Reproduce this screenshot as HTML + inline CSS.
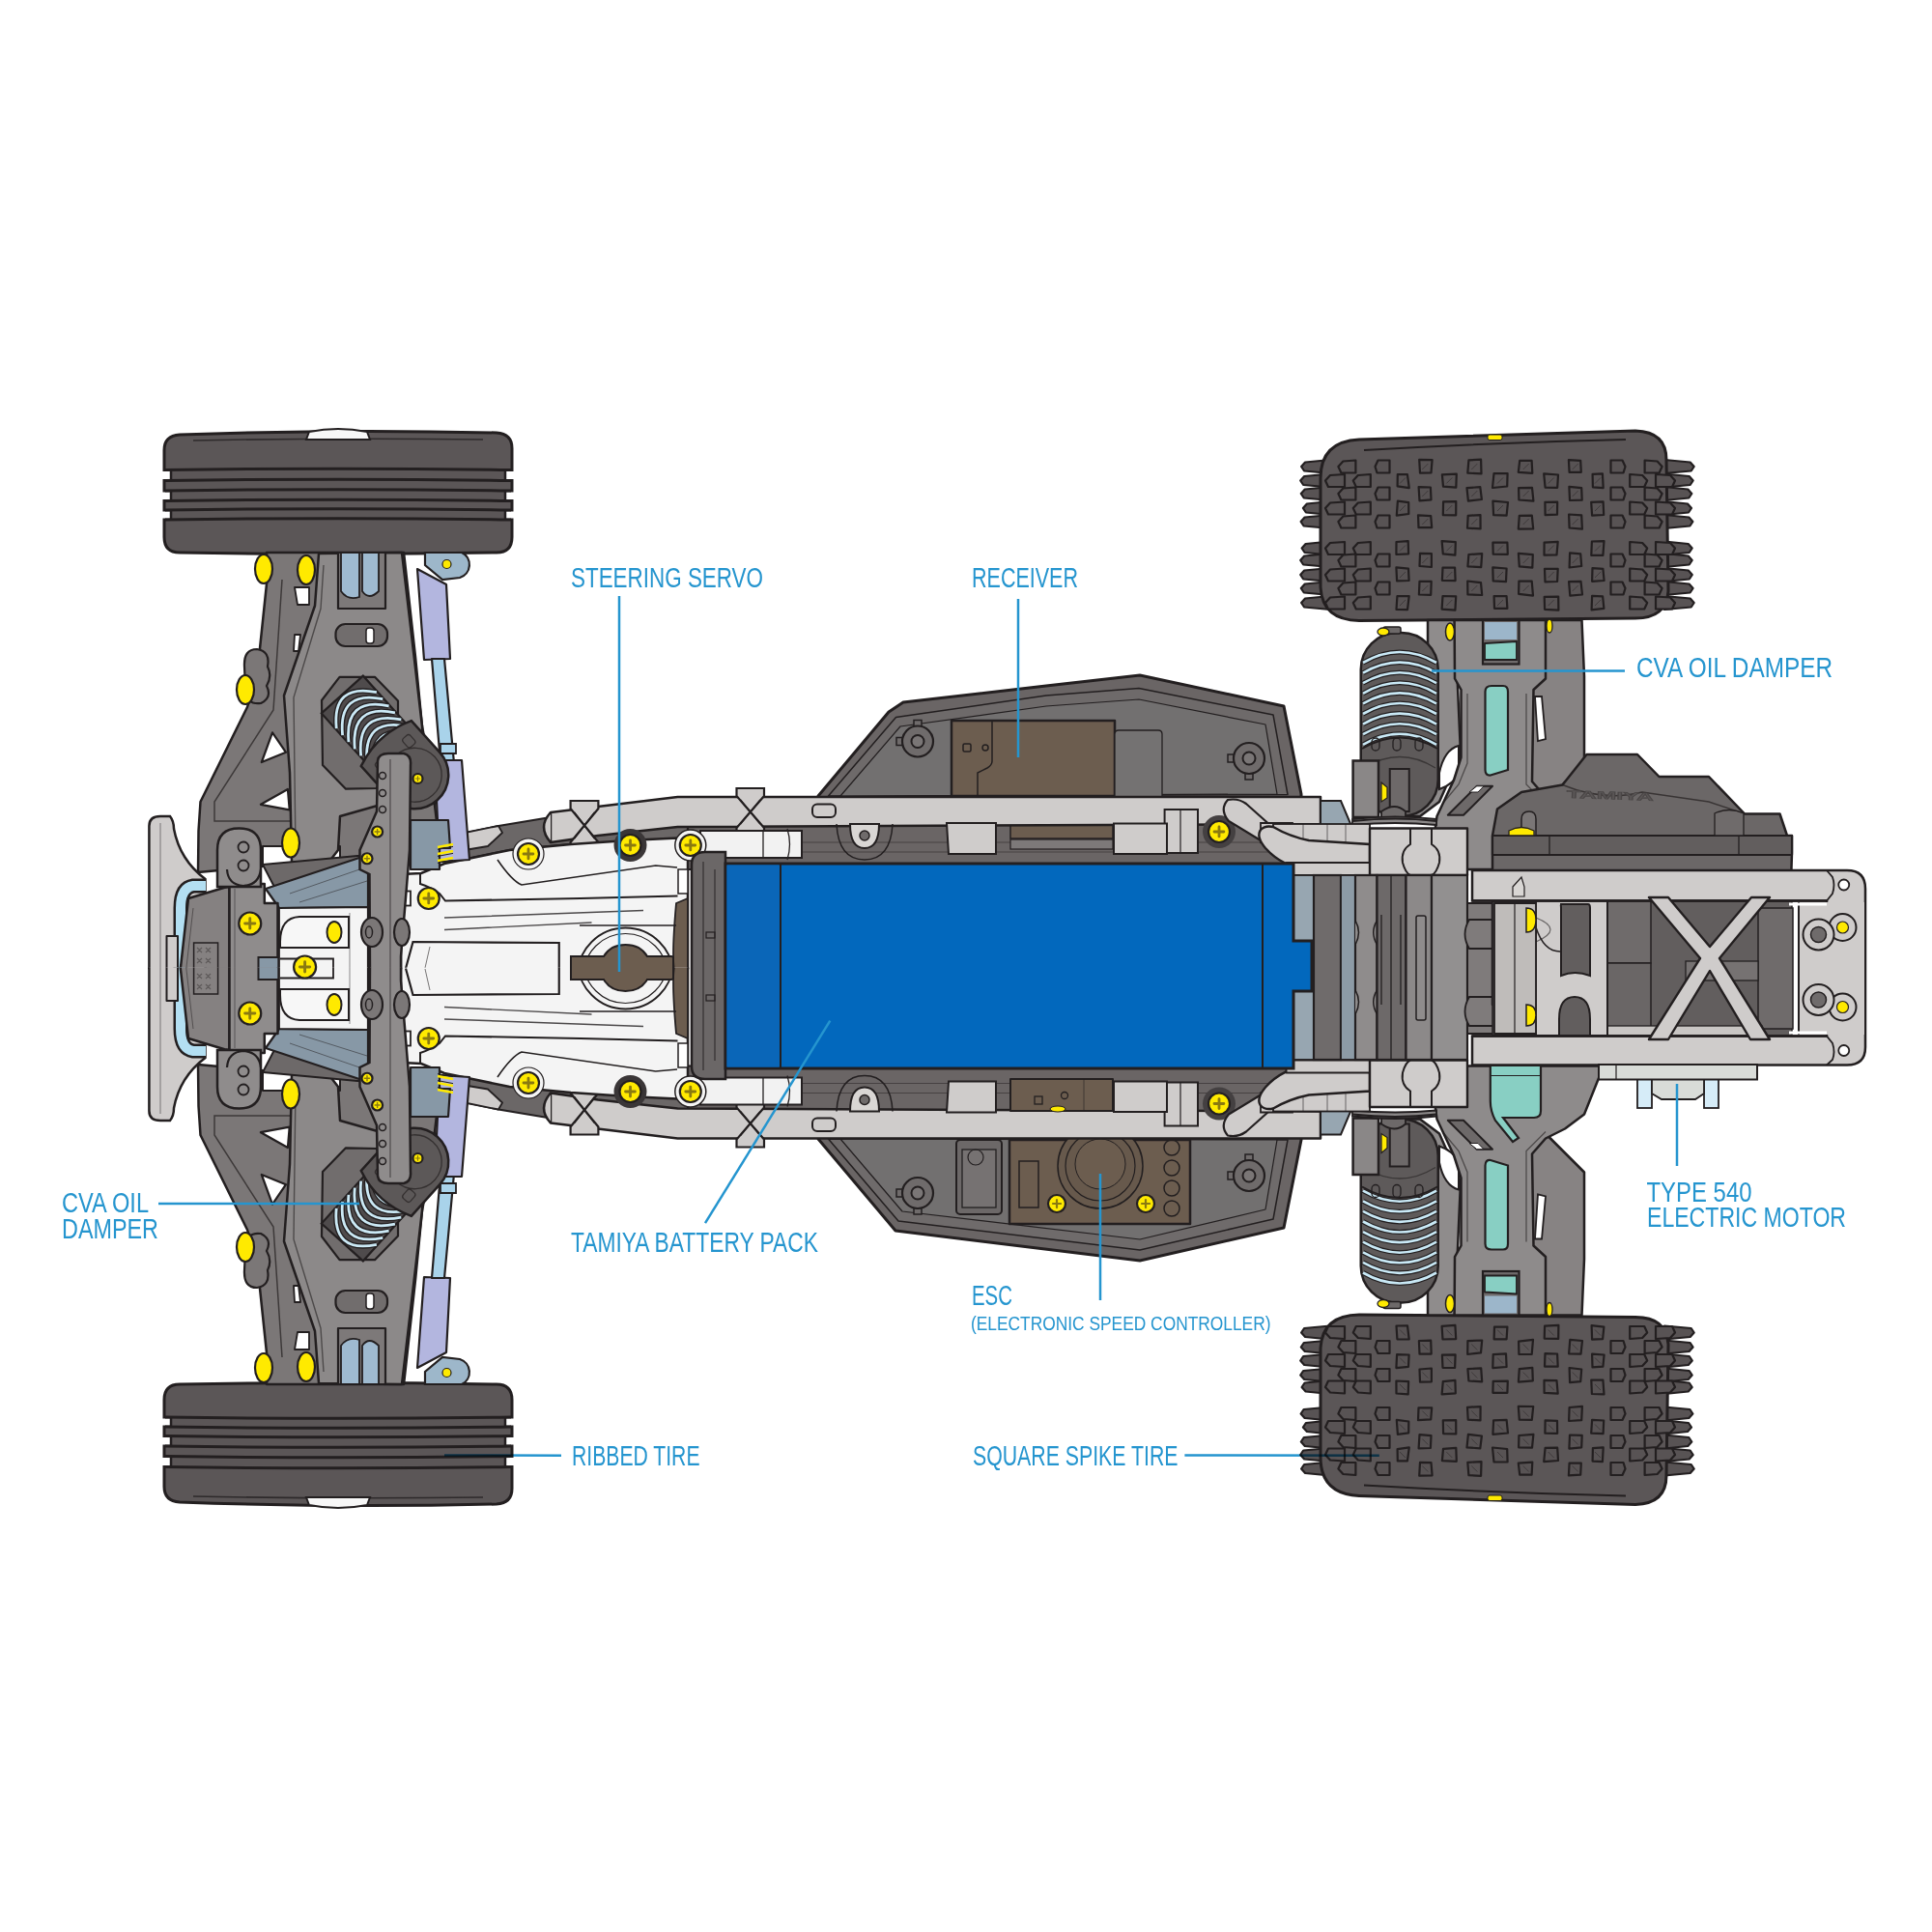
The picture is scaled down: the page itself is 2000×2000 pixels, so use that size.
<!DOCTYPE html>
<html><head><meta charset="utf-8"><style>html,body{margin:0;padding:0;background:#fff;overflow:hidden}svg{display:block}</style></head>
<body><svg xmlns="http://www.w3.org/2000/svg" width="2000" height="2000" viewBox="0 0 2000 2000"><defs><clipPath id="ct"><rect x="0" y="0" width="2000" height="1003.3"/></clipPath><clipPath id="cr"><rect x="0" y="0" width="2000" height="1002.5"/></clipPath></defs><path d="M170,556 L170,466 Q170,451 186,450 Q350.0,444 514,448 Q530,449 530,464 L530,556 Q530,572 514,572 Q350.0,575 186,572 Q170,572 170,556 Z" fill="#5b5657" stroke="#231f20" stroke-width="3"/><path d="M200,456 Q350.0,453 500,455" fill="none" stroke="#231f20" stroke-width="1.6" opacity="0.8"/><rect x="167" y="488.0" width="10.5" height="8.0" fill="#fff"/><rect x="522.5" y="488.0" width="10.5" height="8.0" fill="#fff"/><path d="M177,486.5 V497.5 M523,486.5 V497.5" stroke="#231f20" stroke-width="2.5"/><rect x="167" y="509.5" width="10.5" height="7.5" fill="#fff"/><rect x="522.5" y="509.5" width="10.5" height="7.5" fill="#fff"/><path d="M177,508 V518.5 M523,508 V518.5" stroke="#231f20" stroke-width="2.5"/><rect x="167" y="529.5" width="10.5" height="7" fill="#fff"/><rect x="522.5" y="529.5" width="10.5" height="7" fill="#fff"/><path d="M177,528 V538 M523,528 V538" stroke="#231f20" stroke-width="2.5"/><path d="M171,486.5 Q350.0,484.0 529,486.5" fill="none" stroke="#231f20" stroke-width="3"/><path d="M171,497.5 Q350.0,495.0 529,497.5" fill="none" stroke="#231f20" stroke-width="3"/><path d="M171,508 Q350.0,505.5 529,508" fill="none" stroke="#231f20" stroke-width="3"/><path d="M171,518.5 Q350.0,516.0 529,518.5" fill="none" stroke="#231f20" stroke-width="3"/><path d="M171,528 Q350.0,525.5 529,528" fill="none" stroke="#231f20" stroke-width="3"/><path d="M171,538 Q350.0,535.5 529,538" fill="none" stroke="#231f20" stroke-width="3"/><g transform="translate(0,2005) scale(1,-1)"><path d="M170,556 L170,466 Q170,451 186,450 Q350.0,444 514,448 Q530,449 530,464 L530,556 Q530,572 514,572 Q350.0,575 186,572 Q170,572 170,556 Z" fill="#5b5657" stroke="#231f20" stroke-width="3"/><path d="M200,456 Q350.0,453 500,455" fill="none" stroke="#231f20" stroke-width="1.6" opacity="0.8"/><rect x="167" y="488.0" width="10.5" height="8.0" fill="#fff"/><rect x="522.5" y="488.0" width="10.5" height="8.0" fill="#fff"/><path d="M177,486.5 V497.5 M523,486.5 V497.5" stroke="#231f20" stroke-width="2.5"/><rect x="167" y="509.5" width="10.5" height="7.5" fill="#fff"/><rect x="522.5" y="509.5" width="10.5" height="7.5" fill="#fff"/><path d="M177,508 V518.5 M523,508 V518.5" stroke="#231f20" stroke-width="2.5"/><rect x="167" y="529.5" width="10.5" height="7" fill="#fff"/><rect x="522.5" y="529.5" width="10.5" height="7" fill="#fff"/><path d="M177,528 V538 M523,528 V538" stroke="#231f20" stroke-width="2.5"/><path d="M171,486.5 Q350.0,484.0 529,486.5" fill="none" stroke="#231f20" stroke-width="3"/><path d="M171,497.5 Q350.0,495.0 529,497.5" fill="none" stroke="#231f20" stroke-width="3"/><path d="M171,508 Q350.0,505.5 529,508" fill="none" stroke="#231f20" stroke-width="3"/><path d="M171,518.5 Q350.0,516.0 529,518.5" fill="none" stroke="#231f20" stroke-width="3"/><path d="M171,528 Q350.0,525.5 529,528" fill="none" stroke="#231f20" stroke-width="3"/><path d="M171,538 Q350.0,535.5 529,538" fill="none" stroke="#231f20" stroke-width="3"/></g><path d="M317,455 L320,447 Q350,441 380,447 L383,455 Z" fill="#f7f7f7" stroke="#231f20" stroke-width="2"/><path d="M317,1550 L320,1558 Q350,1564 380,1558 L383,1550 Z" fill="#f7f7f7" stroke="#231f20" stroke-width="2"/><path d="M1377.0,476.0 L1351.1,478.5 L1347.1,483.0 L1350.1,487.5 L1377.0,490.0 Z" fill="#585354" stroke="#231f20" stroke-width="2.2" stroke-linejoin="round" /><path d="M1377.0,504.0 L1350.8,506.5 L1346.8,511.0 L1349.8,515.5 L1377.0,518.0 Z" fill="#585354" stroke="#231f20" stroke-width="2.2" stroke-linejoin="round" /><path d="M1377.0,533.0 L1350.6,535.5 L1346.6,540.0 L1349.6,544.5 L1377.0,547.0 Z" fill="#585354" stroke="#231f20" stroke-width="2.2" stroke-linejoin="round" /><path d="M1377.0,573.0 L1350.2,575.5 L1346.2,580.0 L1349.2,584.5 L1377.0,587.0 Z" fill="#585354" stroke="#231f20" stroke-width="2.2" stroke-linejoin="round" /><path d="M1377.0,602.0 L1350.8,604.5 L1346.8,609.0 L1349.8,613.5 L1377.0,616.0 Z" fill="#585354" stroke="#231f20" stroke-width="2.2" stroke-linejoin="round" /><path d="M1377.0,490.5 L1350.2,493.0 L1346.2,497.5 L1349.2,502.0 L1377.0,504.5 Z" fill="#585354" stroke="#231f20" stroke-width="2.2" stroke-linejoin="round" /><path d="M1377.0,519.0 L1352.9,521.5 L1348.9,526.0 L1351.9,530.5 L1377.0,533.0 Z" fill="#585354" stroke="#231f20" stroke-width="2.2" stroke-linejoin="round" /><path d="M1377.0,560.5 L1351.6,563.0 L1347.6,567.5 L1350.6,572.0 L1377.0,574.5 Z" fill="#585354" stroke="#231f20" stroke-width="2.2" stroke-linejoin="round" /><path d="M1377.0,588.0 L1350.2,590.5 L1346.2,595.0 L1349.2,599.5 L1377.0,602.0 Z" fill="#585354" stroke="#231f20" stroke-width="2.2" stroke-linejoin="round" /><path d="M1377.0,617.0 L1351.1,619.5 L1347.1,624.0 L1350.1,628.5 L1377.0,631.0 Z" fill="#585354" stroke="#231f20" stroke-width="2.2" stroke-linejoin="round" /><path d="M1723.0,476.0 L1749.7,478.5 L1753.7,483.0 L1750.7,487.5 L1723.0,490.0 Z" fill="#585354" stroke="#231f20" stroke-width="2.2" stroke-linejoin="round" /><path d="M1723.0,504.0 L1747.3,506.5 L1751.3,511.0 L1748.3,515.5 L1723.0,518.0 Z" fill="#585354" stroke="#231f20" stroke-width="2.2" stroke-linejoin="round" /><path d="M1723.0,533.0 L1748.4,535.5 L1752.4,540.0 L1749.4,544.5 L1723.0,547.0 Z" fill="#585354" stroke="#231f20" stroke-width="2.2" stroke-linejoin="round" /><path d="M1723.0,573.0 L1747.7,575.5 L1751.7,580.0 L1748.7,584.5 L1723.0,587.0 Z" fill="#585354" stroke="#231f20" stroke-width="2.2" stroke-linejoin="round" /><path d="M1723.0,602.0 L1748.6,604.5 L1752.6,609.0 L1749.6,613.5 L1723.0,616.0 Z" fill="#585354" stroke="#231f20" stroke-width="2.2" stroke-linejoin="round" /><path d="M1723.0,490.5 L1748.7,493.0 L1752.7,497.5 L1749.7,502.0 L1723.0,504.5 Z" fill="#585354" stroke="#231f20" stroke-width="2.2" stroke-linejoin="round" /><path d="M1723.0,519.0 L1747.0,521.5 L1751.0,526.0 L1748.0,530.5 L1723.0,533.0 Z" fill="#585354" stroke="#231f20" stroke-width="2.2" stroke-linejoin="round" /><path d="M1723.0,560.5 L1747.7,563.0 L1751.7,567.5 L1748.7,572.0 L1723.0,574.5 Z" fill="#585354" stroke="#231f20" stroke-width="2.2" stroke-linejoin="round" /><path d="M1723.0,588.0 L1747.8,590.5 L1751.8,595.0 L1748.8,599.5 L1723.0,602.0 Z" fill="#585354" stroke="#231f20" stroke-width="2.2" stroke-linejoin="round" /><path d="M1723.0,617.0 L1749.7,619.5 L1753.7,624.0 L1750.7,628.5 L1723.0,631.0 Z" fill="#585354" stroke="#231f20" stroke-width="2.2" stroke-linejoin="round" /><path d="M1367,495 Q1367,457 1407,455 L1693,446 Q1725,447 1725,476 L1727,612 Q1725,640 1693,640 L1407,642.5 Q1369,642 1367,608 Z" fill="#5b5657" stroke="#231f20" stroke-width="3"/><path d="M1412,466 Q1550.0,458 1683,455" fill="none" stroke="#231f20" stroke-width="2"/><rect x="1540" y="450" width="15" height="5.5" rx="2" fill="#ffea00" stroke="#231f20" stroke-width="1"/><path d="M1546.5,490.1 L1560.6,490.0 L1560.2,503.5 L1545.0,505.0 Z" fill="#585354" stroke="#231f20" stroke-width="2.2" stroke-linejoin="round" /><path d="M1550.0,500.5 L1556.0,494.5" stroke="#231f20" stroke-width="0.8" opacity="0.6"/><path d="M1545.4,518.7 L1561.0,520.0 L1559.6,533.7 L1546.1,533.1 Z" fill="#585354" stroke="#231f20" stroke-width="2.2" stroke-linejoin="round" /><path d="M1550.0,529.0 L1556.0,523.0" stroke="#231f20" stroke-width="0.8" opacity="0.6"/><path d="M1545.4,561.6 L1560.4,561.7 L1560.8,573.8 L1545.7,573.6 Z" fill="#585354" stroke="#231f20" stroke-width="2.2" stroke-linejoin="round" /><path d="M1550.0,570.5 L1556.0,564.5" stroke="#231f20" stroke-width="0.8" opacity="0.6"/><path d="M1545.3,587.4 L1559.6,588.5 L1559.0,602.1 L1545.7,601.4 Z" fill="#585354" stroke="#231f20" stroke-width="2.2" stroke-linejoin="round" /><path d="M1550.0,598.0 L1556.0,592.0" stroke="#231f20" stroke-width="0.8" opacity="0.6"/><path d="M1546.6,617.2 L1559.6,617.2 L1560.4,629.9 L1547.0,629.8 Z" fill="#585354" stroke="#231f20" stroke-width="2.2" stroke-linejoin="round" /><path d="M1550.0,627.0 L1556.0,621.0" stroke="#231f20" stroke-width="0.8" opacity="0.6"/><path d="M1573.2,476.9 L1585.6,476.8 L1586.3,489.9 L1571.8,488.8 Z" fill="#585354" stroke="#231f20" stroke-width="2.2" stroke-linejoin="round" /><path d="M1576.7,486.0 L1582.7,480.0" stroke="#231f20" stroke-width="0.8" opacity="0.6"/><path d="M1572.1,505.2 L1586.0,504.8 L1587.4,518.6 L1572.4,517.5 Z" fill="#585354" stroke="#231f20" stroke-width="2.2" stroke-linejoin="round" /><path d="M1576.7,514.0 L1582.7,508.0" stroke="#231f20" stroke-width="0.8" opacity="0.6"/><path d="M1572.8,533.8 L1585.8,533.7 L1587.2,547.5 L1571.8,547.6 Z" fill="#585354" stroke="#231f20" stroke-width="2.2" stroke-linejoin="round" /><path d="M1576.7,543.0 L1582.7,537.0" stroke="#231f20" stroke-width="0.8" opacity="0.6"/><path d="M1571.9,572.9 L1586.8,574.1 L1586.3,587.6 L1572.8,586.4 Z" fill="#585354" stroke="#231f20" stroke-width="2.2" stroke-linejoin="round" /><path d="M1576.7,583.0 L1582.7,577.0" stroke="#231f20" stroke-width="0.8" opacity="0.6"/><path d="M1572.4,601.6 L1585.7,601.5 L1587.0,616.7 L1572.1,614.8 Z" fill="#585354" stroke="#231f20" stroke-width="2.2" stroke-linejoin="round" /><path d="M1576.7,612.0 L1582.7,606.0" stroke="#231f20" stroke-width="0.8" opacity="0.6"/><path d="M1520.4,476.3 L1533.1,475.7 L1533.5,490.4 L1519.3,489.6 Z" fill="#585354" stroke="#231f20" stroke-width="2.2" stroke-linejoin="round" /><path d="M1523.3,486.0 L1529.3,480.0" stroke="#231f20" stroke-width="0.8" opacity="0.6"/><path d="M1518.5,505.1 L1532.3,504.2 L1533.9,517.0 L1519.9,518.6 Z" fill="#585354" stroke="#231f20" stroke-width="2.2" stroke-linejoin="round" /><path d="M1523.3,514.0 L1529.3,508.0" stroke="#231f20" stroke-width="0.8" opacity="0.6"/><path d="M1519.7,533.8 L1532.5,533.1 L1532.6,547.4 L1519.0,546.7 Z" fill="#585354" stroke="#231f20" stroke-width="2.2" stroke-linejoin="round" /><path d="M1523.3,543.0 L1529.3,537.0" stroke="#231f20" stroke-width="0.8" opacity="0.6"/><path d="M1520.4,574.0 L1534.2,573.2 L1533.2,587.2 L1519.4,586.3 Z" fill="#585354" stroke="#231f20" stroke-width="2.2" stroke-linejoin="round" /><path d="M1523.3,583.0 L1529.3,577.0" stroke="#231f20" stroke-width="0.8" opacity="0.6"/><path d="M1519.2,601.5 L1533.0,603.2 L1534.2,616.0 L1519.4,615.4 Z" fill="#585354" stroke="#231f20" stroke-width="2.2" stroke-linejoin="round" /><path d="M1523.3,612.0 L1529.3,606.0" stroke="#231f20" stroke-width="0.8" opacity="0.6"/><path d="M1598.2,490.3 L1613.0,491.5 L1612.2,504.8 L1599.6,504.6 Z" fill="#585354" stroke="#231f20" stroke-width="2.2" stroke-linejoin="round" /><path d="M1602.7,500.5 L1608.7,494.5" stroke="#231f20" stroke-width="0.8" opacity="0.6"/><path d="M1599.4,519.8 L1612.2,519.7 L1612.0,532.7 L1599.6,533.1 Z" fill="#585354" stroke="#231f20" stroke-width="2.2" stroke-linejoin="round" /><path d="M1602.7,529.0 L1608.7,523.0" stroke="#231f20" stroke-width="0.8" opacity="0.6"/><path d="M1598.6,561.6 L1612.7,560.9 L1611.5,574.3 L1598.5,574.6 Z" fill="#585354" stroke="#231f20" stroke-width="2.2" stroke-linejoin="round" /><path d="M1602.7,570.5 L1608.7,564.5" stroke="#231f20" stroke-width="0.8" opacity="0.6"/><path d="M1599.0,588.9 L1612.7,588.8 L1612.1,602.0 L1599.5,602.4 Z" fill="#585354" stroke="#231f20" stroke-width="2.2" stroke-linejoin="round" /><path d="M1602.7,598.0 L1608.7,592.0" stroke="#231f20" stroke-width="0.8" opacity="0.6"/><path d="M1598.7,617.9 L1613.2,617.6 L1613.4,631.7 L1599.1,630.8 Z" fill="#585354" stroke="#231f20" stroke-width="2.2" stroke-linejoin="round" /><path d="M1602.7,627.0 L1608.7,621.0" stroke="#231f20" stroke-width="0.8" opacity="0.6"/><path d="M1492.9,491.4 L1507.8,490.7 L1507.3,504.7 L1494.0,503.6 Z" fill="#585354" stroke="#231f20" stroke-width="2.2" stroke-linejoin="round" /><path d="M1497.3,500.5 L1503.3,494.5" stroke="#231f20" stroke-width="0.8" opacity="0.6"/><path d="M1494.1,519.4 L1507.3,519.1 L1507.2,533.3 L1493.8,533.2 Z" fill="#585354" stroke="#231f20" stroke-width="2.2" stroke-linejoin="round" /><path d="M1497.3,529.0 L1503.3,523.0" stroke="#231f20" stroke-width="0.8" opacity="0.6"/><path d="M1492.6,560.1 L1506.8,561.1 L1506.4,574.6 L1493.8,573.3 Z" fill="#585354" stroke="#231f20" stroke-width="2.2" stroke-linejoin="round" /><path d="M1497.3,570.5 L1503.3,564.5" stroke="#231f20" stroke-width="0.8" opacity="0.6"/><path d="M1493.5,587.7 L1506.1,587.5 L1506.6,601.1 L1492.9,600.8 Z" fill="#585354" stroke="#231f20" stroke-width="2.2" stroke-linejoin="round" /><path d="M1497.3,598.0 L1503.3,592.0" stroke="#231f20" stroke-width="0.8" opacity="0.6"/><path d="M1493.5,617.0 L1507.2,617.4 L1506.4,631.6 L1492.6,630.6 Z" fill="#585354" stroke="#231f20" stroke-width="2.2" stroke-linejoin="round" /><path d="M1497.3,627.0 L1503.3,621.0" stroke="#231f20" stroke-width="0.8" opacity="0.6"/><path d="M1623.9,476.1 L1636.2,476.9 L1636.8,488.8 L1624.6,488.9 Z" fill="#585354" stroke="#231f20" stroke-width="2.2" stroke-linejoin="round" /><path d="M1627.7,486.0 L1633.7,480.0" stroke="#231f20" stroke-width="0.8" opacity="0.6"/><path d="M1624.4,503.9 L1637.2,505.2 L1637.7,517.6 L1625.0,518.0 Z" fill="#585354" stroke="#231f20" stroke-width="2.2" stroke-linejoin="round" /><path d="M1627.7,514.0 L1633.7,508.0" stroke="#231f20" stroke-width="0.8" opacity="0.6"/><path d="M1624.1,532.5 L1637.2,533.4 L1637.9,547.7 L1624.6,546.5 Z" fill="#585354" stroke="#231f20" stroke-width="2.2" stroke-linejoin="round" /><path d="M1627.7,543.0 L1633.7,537.0" stroke="#231f20" stroke-width="0.8" opacity="0.6"/><path d="M1625.1,572.3 L1636.2,573.4 L1637.2,586.0 L1624.6,587.5 Z" fill="#585354" stroke="#231f20" stroke-width="2.2" stroke-linejoin="round" /><path d="M1627.7,583.0 L1633.7,577.0" stroke="#231f20" stroke-width="0.8" opacity="0.6"/><path d="M1624.1,602.1 L1636.5,601.8 L1638.0,615.5 L1625.3,616.6 Z" fill="#585354" stroke="#231f20" stroke-width="2.2" stroke-linejoin="round" /><path d="M1627.7,612.0 L1633.7,606.0" stroke="#231f20" stroke-width="0.8" opacity="0.6"/><path d="M1469.2,475.8 L1482.6,476.2 L1481.5,489.4 L1470.0,489.7 Z" fill="#585354" stroke="#231f20" stroke-width="2.2" stroke-linejoin="round" /><path d="M1472.3,486.0 L1478.3,480.0" stroke="#231f20" stroke-width="0.8" opacity="0.6"/><path d="M1468.6,504.2 L1480.9,504.5 L1481.5,517.3 L1469.5,518.4 Z" fill="#585354" stroke="#231f20" stroke-width="2.2" stroke-linejoin="round" /><path d="M1472.3,514.0 L1478.3,508.0" stroke="#231f20" stroke-width="0.8" opacity="0.6"/><path d="M1468.0,533.3 L1481.2,534.1 L1482.2,546.2 L1468.5,546.1 Z" fill="#585354" stroke="#231f20" stroke-width="2.2" stroke-linejoin="round" /><path d="M1472.3,543.0 L1478.3,537.0" stroke="#231f20" stroke-width="0.8" opacity="0.6"/><path d="M1470.0,572.8 L1481.9,573.2 L1481.9,587.0 L1469.5,586.0 Z" fill="#585354" stroke="#231f20" stroke-width="2.2" stroke-linejoin="round" /><path d="M1472.3,583.0 L1478.3,577.0" stroke="#231f20" stroke-width="0.8" opacity="0.6"/><path d="M1469.5,601.9 L1481.7,601.9 L1481.2,615.8 L1468.9,615.5 Z" fill="#585354" stroke="#231f20" stroke-width="2.2" stroke-linejoin="round" /><path d="M1472.3,612.0 L1478.3,606.0" stroke="#231f20" stroke-width="0.8" opacity="0.6"/><path d="M1648.6,490.9 L1658.9,490.3 L1659.7,505.1 L1648.9,504.3 Z" fill="#585354" stroke="#231f20" stroke-width="2.2" stroke-linejoin="round" /><path d="M1651.0,500.5 L1657.0,494.5" stroke="#231f20" stroke-width="0.8" opacity="0.6"/><path d="M1647.2,519.8 L1659.6,519.4 L1660.2,533.0 L1648.1,533.6 Z" fill="#585354" stroke="#231f20" stroke-width="2.2" stroke-linejoin="round" /><path d="M1651.0,529.0 L1657.0,523.0" stroke="#231f20" stroke-width="0.8" opacity="0.6"/><path d="M1647.9,560.5 L1660.5,560.1 L1659.4,574.9 L1647.3,574.9 Z" fill="#585354" stroke="#231f20" stroke-width="2.2" stroke-linejoin="round" /><path d="M1651.0,570.5 L1657.0,564.5" stroke="#231f20" stroke-width="0.8" opacity="0.6"/><path d="M1648.5,588.1 L1659.4,588.8 L1660.6,601.0 L1648.1,601.8 Z" fill="#585354" stroke="#231f20" stroke-width="2.2" stroke-linejoin="round" /><path d="M1651.0,598.0 L1657.0,592.0" stroke="#231f20" stroke-width="0.8" opacity="0.6"/><path d="M1648.1,616.9 L1659.1,617.4 L1660.4,629.9 L1647.6,631.4 Z" fill="#585354" stroke="#231f20" stroke-width="2.2" stroke-linejoin="round" /><path d="M1651.0,627.0 L1657.0,621.0" stroke="#231f20" stroke-width="0.8" opacity="0.6"/><path d="M1446.8,491.1 L1456.9,491.2 L1458.8,505.2 L1446.6,503.3 Z" fill="#585354" stroke="#231f20" stroke-width="2.2" stroke-linejoin="round" /><path d="M1449.0,500.5 L1455.0,494.5" stroke="#231f20" stroke-width="0.8" opacity="0.6"/><path d="M1446.9,518.7 L1458.2,520.2 L1458.3,532.0 L1445.8,533.6 Z" fill="#585354" stroke="#231f20" stroke-width="2.2" stroke-linejoin="round" /><path d="M1449.0,529.0 L1455.0,523.0" stroke="#231f20" stroke-width="0.8" opacity="0.6"/><path d="M1445.5,561.0 L1457.7,560.1 L1458.1,573.3 L1445.4,574.0 Z" fill="#585354" stroke="#231f20" stroke-width="2.2" stroke-linejoin="round" /><path d="M1449.0,570.5 L1455.0,564.5" stroke="#231f20" stroke-width="0.8" opacity="0.6"/><path d="M1445.4,587.4 L1458.0,588.7 L1458.6,601.0 L1446.1,601.4 Z" fill="#585354" stroke="#231f20" stroke-width="2.2" stroke-linejoin="round" /><path d="M1449.0,598.0 L1455.0,592.0" stroke="#231f20" stroke-width="0.8" opacity="0.6"/><path d="M1446.4,617.2 L1458.7,617.0 L1457.0,631.1 L1445.5,631.0 Z" fill="#585354" stroke="#231f20" stroke-width="2.2" stroke-linejoin="round" /><path d="M1449.0,627.0 L1455.0,621.0" stroke="#231f20" stroke-width="0.8" opacity="0.6"/><path d="M1667.5,476.5 L1679.5,476.5 L1682.5,483.0 L1680.5,489.5 L1667.5,489.5 Z" fill="#585354" stroke="#231f20" stroke-width="2.2" stroke-linejoin="round" /><path d="M1667.5,504.5 L1679.5,504.5 L1682.5,511.0 L1680.5,517.5 L1667.5,517.5 Z" fill="#585354" stroke="#231f20" stroke-width="2.2" stroke-linejoin="round" /><path d="M1667.5,533.5 L1679.5,533.5 L1682.5,540.0 L1680.5,546.5 L1667.5,546.5 Z" fill="#585354" stroke="#231f20" stroke-width="2.2" stroke-linejoin="round" /><path d="M1667.5,573.5 L1679.5,573.5 L1682.5,580.0 L1680.5,586.5 L1667.5,586.5 Z" fill="#585354" stroke="#231f20" stroke-width="2.2" stroke-linejoin="round" /><path d="M1667.5,602.5 L1679.5,602.5 L1682.5,609.0 L1680.5,615.5 L1667.5,615.5 Z" fill="#585354" stroke="#231f20" stroke-width="2.2" stroke-linejoin="round" /><path d="M1438.5,476.5 L1426.5,476.5 L1423.5,483.0 L1425.5,489.5 L1438.5,489.5 Z" fill="#585354" stroke="#231f20" stroke-width="2.2" stroke-linejoin="round" /><path d="M1438.5,504.5 L1426.5,504.5 L1423.5,511.0 L1425.5,517.5 L1438.5,517.5 Z" fill="#585354" stroke="#231f20" stroke-width="2.2" stroke-linejoin="round" /><path d="M1438.5,533.5 L1426.5,533.5 L1423.5,540.0 L1425.5,546.5 L1438.5,546.5 Z" fill="#585354" stroke="#231f20" stroke-width="2.2" stroke-linejoin="round" /><path d="M1438.5,573.5 L1426.5,573.5 L1423.5,580.0 L1425.5,586.5 L1438.5,586.5 Z" fill="#585354" stroke="#231f20" stroke-width="2.2" stroke-linejoin="round" /><path d="M1438.5,602.5 L1426.5,602.5 L1423.5,609.0 L1425.5,615.5 L1438.5,615.5 Z" fill="#585354" stroke="#231f20" stroke-width="2.2" stroke-linejoin="round" /><path d="M1687.2,491.0 L1700.2,492.0 L1705.2,497.5 L1702.2,504.0 L1687.2,504.0 Z" fill="#585354" stroke="#231f20" stroke-width="2.2" stroke-linejoin="round" /><path d="M1687.2,519.5 L1700.2,520.5 L1705.2,526.0 L1702.2,532.5 L1687.2,532.5 Z" fill="#585354" stroke="#231f20" stroke-width="2.2" stroke-linejoin="round" /><path d="M1687.2,561.0 L1700.2,562.0 L1705.2,567.5 L1702.2,574.0 L1687.2,574.0 Z" fill="#585354" stroke="#231f20" stroke-width="2.2" stroke-linejoin="round" /><path d="M1687.2,588.5 L1700.2,589.5 L1705.2,595.0 L1702.2,601.5 L1687.2,601.5 Z" fill="#585354" stroke="#231f20" stroke-width="2.2" stroke-linejoin="round" /><path d="M1687.2,617.5 L1700.2,618.5 L1705.2,624.0 L1702.2,630.5 L1687.2,630.5 Z" fill="#585354" stroke="#231f20" stroke-width="2.2" stroke-linejoin="round" /><path d="M1418.8,491.0 L1405.8,492.0 L1400.8,497.5 L1403.8,504.0 L1418.8,504.0 Z" fill="#585354" stroke="#231f20" stroke-width="2.2" stroke-linejoin="round" /><path d="M1418.8,519.5 L1405.8,520.5 L1400.8,526.0 L1403.8,532.5 L1418.8,532.5 Z" fill="#585354" stroke="#231f20" stroke-width="2.2" stroke-linejoin="round" /><path d="M1418.8,561.0 L1405.8,562.0 L1400.8,567.5 L1403.8,574.0 L1418.8,574.0 Z" fill="#585354" stroke="#231f20" stroke-width="2.2" stroke-linejoin="round" /><path d="M1418.8,588.5 L1405.8,589.5 L1400.8,595.0 L1403.8,601.5 L1418.8,601.5 Z" fill="#585354" stroke="#231f20" stroke-width="2.2" stroke-linejoin="round" /><path d="M1418.8,617.5 L1405.8,618.5 L1400.8,624.0 L1403.8,630.5 L1418.8,630.5 Z" fill="#585354" stroke="#231f20" stroke-width="2.2" stroke-linejoin="round" /><path d="M1702.6,476.5 L1715.6,477.5 L1720.6,483.0 L1717.6,489.5 L1702.6,489.5 Z" fill="#585354" stroke="#231f20" stroke-width="2.2" stroke-linejoin="round" /><path d="M1702.6,504.5 L1715.6,505.5 L1720.6,511.0 L1717.6,517.5 L1702.6,517.5 Z" fill="#585354" stroke="#231f20" stroke-width="2.2" stroke-linejoin="round" /><path d="M1702.6,533.5 L1715.6,534.5 L1720.6,540.0 L1717.6,546.5 L1702.6,546.5 Z" fill="#585354" stroke="#231f20" stroke-width="2.2" stroke-linejoin="round" /><path d="M1702.6,573.5 L1715.6,574.5 L1720.6,580.0 L1717.6,586.5 L1702.6,586.5 Z" fill="#585354" stroke="#231f20" stroke-width="2.2" stroke-linejoin="round" /><path d="M1702.6,602.5 L1715.6,603.5 L1720.6,609.0 L1717.6,615.5 L1702.6,615.5 Z" fill="#585354" stroke="#231f20" stroke-width="2.2" stroke-linejoin="round" /><path d="M1403.4,476.5 L1390.4,477.5 L1385.4,483.0 L1388.4,489.5 L1403.4,489.5 Z" fill="#585354" stroke="#231f20" stroke-width="2.2" stroke-linejoin="round" /><path d="M1403.4,504.5 L1390.4,505.5 L1385.4,511.0 L1388.4,517.5 L1403.4,517.5 Z" fill="#585354" stroke="#231f20" stroke-width="2.2" stroke-linejoin="round" /><path d="M1403.4,533.5 L1390.4,534.5 L1385.4,540.0 L1388.4,546.5 L1403.4,546.5 Z" fill="#585354" stroke="#231f20" stroke-width="2.2" stroke-linejoin="round" /><path d="M1403.4,573.5 L1390.4,574.5 L1385.4,580.0 L1388.4,586.5 L1403.4,586.5 Z" fill="#585354" stroke="#231f20" stroke-width="2.2" stroke-linejoin="round" /><path d="M1403.4,602.5 L1390.4,603.5 L1385.4,609.0 L1388.4,615.5 L1403.4,615.5 Z" fill="#585354" stroke="#231f20" stroke-width="2.2" stroke-linejoin="round" /><path d="M1714.0,491.0 L1729.0,492.0 L1734.0,497.5 L1731.0,504.0 L1714.0,504.0 Z" fill="#585354" stroke="#231f20" stroke-width="2.2" stroke-linejoin="round" /><path d="M1714.0,519.5 L1729.0,520.5 L1734.0,526.0 L1731.0,532.5 L1714.0,532.5 Z" fill="#585354" stroke="#231f20" stroke-width="2.2" stroke-linejoin="round" /><path d="M1714.0,561.0 L1729.0,562.0 L1734.0,567.5 L1731.0,574.0 L1714.0,574.0 Z" fill="#585354" stroke="#231f20" stroke-width="2.2" stroke-linejoin="round" /><path d="M1714.0,588.5 L1729.0,589.5 L1734.0,595.0 L1731.0,601.5 L1714.0,601.5 Z" fill="#585354" stroke="#231f20" stroke-width="2.2" stroke-linejoin="round" /><path d="M1714.0,617.5 L1729.0,618.5 L1734.0,624.0 L1731.0,630.5 L1714.0,630.5 Z" fill="#585354" stroke="#231f20" stroke-width="2.2" stroke-linejoin="round" /><path d="M1392.0,491.0 L1377.0,492.0 L1372.0,497.5 L1375.0,504.0 L1392.0,504.0 Z" fill="#585354" stroke="#231f20" stroke-width="2.2" stroke-linejoin="round" /><path d="M1392.0,519.5 L1377.0,520.5 L1372.0,526.0 L1375.0,532.5 L1392.0,532.5 Z" fill="#585354" stroke="#231f20" stroke-width="2.2" stroke-linejoin="round" /><path d="M1392.0,561.0 L1377.0,562.0 L1372.0,567.5 L1375.0,574.0 L1392.0,574.0 Z" fill="#585354" stroke="#231f20" stroke-width="2.2" stroke-linejoin="round" /><path d="M1392.0,588.5 L1377.0,589.5 L1372.0,595.0 L1375.0,601.5 L1392.0,601.5 Z" fill="#585354" stroke="#231f20" stroke-width="2.2" stroke-linejoin="round" /><path d="M1392.0,617.5 L1377.0,618.5 L1372.0,624.0 L1375.0,630.5 L1392.0,630.5 Z" fill="#585354" stroke="#231f20" stroke-width="2.2" stroke-linejoin="round" /><g transform="translate(0,2003.5) scale(1,-1)"><path d="M1377.0,476.0 L1351.1,478.5 L1347.1,483.0 L1350.1,487.5 L1377.0,490.0 Z" fill="#585354" stroke="#231f20" stroke-width="2.2" stroke-linejoin="round" /><path d="M1377.0,504.0 L1350.8,506.5 L1346.8,511.0 L1349.8,515.5 L1377.0,518.0 Z" fill="#585354" stroke="#231f20" stroke-width="2.2" stroke-linejoin="round" /><path d="M1377.0,533.0 L1350.6,535.5 L1346.6,540.0 L1349.6,544.5 L1377.0,547.0 Z" fill="#585354" stroke="#231f20" stroke-width="2.2" stroke-linejoin="round" /><path d="M1377.0,573.0 L1350.2,575.5 L1346.2,580.0 L1349.2,584.5 L1377.0,587.0 Z" fill="#585354" stroke="#231f20" stroke-width="2.2" stroke-linejoin="round" /><path d="M1377.0,602.0 L1350.8,604.5 L1346.8,609.0 L1349.8,613.5 L1377.0,616.0 Z" fill="#585354" stroke="#231f20" stroke-width="2.2" stroke-linejoin="round" /><path d="M1377.0,490.5 L1350.2,493.0 L1346.2,497.5 L1349.2,502.0 L1377.0,504.5 Z" fill="#585354" stroke="#231f20" stroke-width="2.2" stroke-linejoin="round" /><path d="M1377.0,519.0 L1352.9,521.5 L1348.9,526.0 L1351.9,530.5 L1377.0,533.0 Z" fill="#585354" stroke="#231f20" stroke-width="2.2" stroke-linejoin="round" /><path d="M1377.0,560.5 L1351.6,563.0 L1347.6,567.5 L1350.6,572.0 L1377.0,574.5 Z" fill="#585354" stroke="#231f20" stroke-width="2.2" stroke-linejoin="round" /><path d="M1377.0,588.0 L1350.2,590.5 L1346.2,595.0 L1349.2,599.5 L1377.0,602.0 Z" fill="#585354" stroke="#231f20" stroke-width="2.2" stroke-linejoin="round" /><path d="M1377.0,617.0 L1351.1,619.5 L1347.1,624.0 L1350.1,628.5 L1377.0,631.0 Z" fill="#585354" stroke="#231f20" stroke-width="2.2" stroke-linejoin="round" /><path d="M1723.0,476.0 L1749.7,478.5 L1753.7,483.0 L1750.7,487.5 L1723.0,490.0 Z" fill="#585354" stroke="#231f20" stroke-width="2.2" stroke-linejoin="round" /><path d="M1723.0,504.0 L1747.3,506.5 L1751.3,511.0 L1748.3,515.5 L1723.0,518.0 Z" fill="#585354" stroke="#231f20" stroke-width="2.2" stroke-linejoin="round" /><path d="M1723.0,533.0 L1748.4,535.5 L1752.4,540.0 L1749.4,544.5 L1723.0,547.0 Z" fill="#585354" stroke="#231f20" stroke-width="2.2" stroke-linejoin="round" /><path d="M1723.0,573.0 L1747.7,575.5 L1751.7,580.0 L1748.7,584.5 L1723.0,587.0 Z" fill="#585354" stroke="#231f20" stroke-width="2.2" stroke-linejoin="round" /><path d="M1723.0,602.0 L1748.6,604.5 L1752.6,609.0 L1749.6,613.5 L1723.0,616.0 Z" fill="#585354" stroke="#231f20" stroke-width="2.2" stroke-linejoin="round" /><path d="M1723.0,490.5 L1748.7,493.0 L1752.7,497.5 L1749.7,502.0 L1723.0,504.5 Z" fill="#585354" stroke="#231f20" stroke-width="2.2" stroke-linejoin="round" /><path d="M1723.0,519.0 L1747.0,521.5 L1751.0,526.0 L1748.0,530.5 L1723.0,533.0 Z" fill="#585354" stroke="#231f20" stroke-width="2.2" stroke-linejoin="round" /><path d="M1723.0,560.5 L1747.7,563.0 L1751.7,567.5 L1748.7,572.0 L1723.0,574.5 Z" fill="#585354" stroke="#231f20" stroke-width="2.2" stroke-linejoin="round" /><path d="M1723.0,588.0 L1747.8,590.5 L1751.8,595.0 L1748.8,599.5 L1723.0,602.0 Z" fill="#585354" stroke="#231f20" stroke-width="2.2" stroke-linejoin="round" /><path d="M1723.0,617.0 L1749.7,619.5 L1753.7,624.0 L1750.7,628.5 L1723.0,631.0 Z" fill="#585354" stroke="#231f20" stroke-width="2.2" stroke-linejoin="round" /><path d="M1367,495 Q1367,457 1407,455 L1693,446 Q1725,447 1725,476 L1727,612 Q1725,640 1693,640 L1407,642.5 Q1369,642 1367,608 Z" fill="#5b5657" stroke="#231f20" stroke-width="3"/><path d="M1412,466 Q1550.0,458 1683,455" fill="none" stroke="#231f20" stroke-width="2"/><rect x="1540" y="450" width="15" height="5.5" rx="2" fill="#ffea00" stroke="#231f20" stroke-width="1"/><path d="M1546.5,490.1 L1560.6,490.0 L1560.2,503.5 L1545.0,505.0 Z" fill="#585354" stroke="#231f20" stroke-width="2.2" stroke-linejoin="round" /><path d="M1550.0,500.5 L1556.0,494.5" stroke="#231f20" stroke-width="0.8" opacity="0.6"/><path d="M1545.4,518.7 L1561.0,520.0 L1559.6,533.7 L1546.1,533.1 Z" fill="#585354" stroke="#231f20" stroke-width="2.2" stroke-linejoin="round" /><path d="M1550.0,529.0 L1556.0,523.0" stroke="#231f20" stroke-width="0.8" opacity="0.6"/><path d="M1545.4,561.6 L1560.4,561.7 L1560.8,573.8 L1545.7,573.6 Z" fill="#585354" stroke="#231f20" stroke-width="2.2" stroke-linejoin="round" /><path d="M1550.0,570.5 L1556.0,564.5" stroke="#231f20" stroke-width="0.8" opacity="0.6"/><path d="M1545.3,587.4 L1559.6,588.5 L1559.0,602.1 L1545.7,601.4 Z" fill="#585354" stroke="#231f20" stroke-width="2.2" stroke-linejoin="round" /><path d="M1550.0,598.0 L1556.0,592.0" stroke="#231f20" stroke-width="0.8" opacity="0.6"/><path d="M1546.6,617.2 L1559.6,617.2 L1560.4,629.9 L1547.0,629.8 Z" fill="#585354" stroke="#231f20" stroke-width="2.2" stroke-linejoin="round" /><path d="M1550.0,627.0 L1556.0,621.0" stroke="#231f20" stroke-width="0.8" opacity="0.6"/><path d="M1573.2,476.9 L1585.6,476.8 L1586.3,489.9 L1571.8,488.8 Z" fill="#585354" stroke="#231f20" stroke-width="2.2" stroke-linejoin="round" /><path d="M1576.7,486.0 L1582.7,480.0" stroke="#231f20" stroke-width="0.8" opacity="0.6"/><path d="M1572.1,505.2 L1586.0,504.8 L1587.4,518.6 L1572.4,517.5 Z" fill="#585354" stroke="#231f20" stroke-width="2.2" stroke-linejoin="round" /><path d="M1576.7,514.0 L1582.7,508.0" stroke="#231f20" stroke-width="0.8" opacity="0.6"/><path d="M1572.8,533.8 L1585.8,533.7 L1587.2,547.5 L1571.8,547.6 Z" fill="#585354" stroke="#231f20" stroke-width="2.2" stroke-linejoin="round" /><path d="M1576.7,543.0 L1582.7,537.0" stroke="#231f20" stroke-width="0.8" opacity="0.6"/><path d="M1571.9,572.9 L1586.8,574.1 L1586.3,587.6 L1572.8,586.4 Z" fill="#585354" stroke="#231f20" stroke-width="2.2" stroke-linejoin="round" /><path d="M1576.7,583.0 L1582.7,577.0" stroke="#231f20" stroke-width="0.8" opacity="0.6"/><path d="M1572.4,601.6 L1585.7,601.5 L1587.0,616.7 L1572.1,614.8 Z" fill="#585354" stroke="#231f20" stroke-width="2.2" stroke-linejoin="round" /><path d="M1576.7,612.0 L1582.7,606.0" stroke="#231f20" stroke-width="0.8" opacity="0.6"/><path d="M1520.4,476.3 L1533.1,475.7 L1533.5,490.4 L1519.3,489.6 Z" fill="#585354" stroke="#231f20" stroke-width="2.2" stroke-linejoin="round" /><path d="M1523.3,486.0 L1529.3,480.0" stroke="#231f20" stroke-width="0.8" opacity="0.6"/><path d="M1518.5,505.1 L1532.3,504.2 L1533.9,517.0 L1519.9,518.6 Z" fill="#585354" stroke="#231f20" stroke-width="2.2" stroke-linejoin="round" /><path d="M1523.3,514.0 L1529.3,508.0" stroke="#231f20" stroke-width="0.8" opacity="0.6"/><path d="M1519.7,533.8 L1532.5,533.1 L1532.6,547.4 L1519.0,546.7 Z" fill="#585354" stroke="#231f20" stroke-width="2.2" stroke-linejoin="round" /><path d="M1523.3,543.0 L1529.3,537.0" stroke="#231f20" stroke-width="0.8" opacity="0.6"/><path d="M1520.4,574.0 L1534.2,573.2 L1533.2,587.2 L1519.4,586.3 Z" fill="#585354" stroke="#231f20" stroke-width="2.2" stroke-linejoin="round" /><path d="M1523.3,583.0 L1529.3,577.0" stroke="#231f20" stroke-width="0.8" opacity="0.6"/><path d="M1519.2,601.5 L1533.0,603.2 L1534.2,616.0 L1519.4,615.4 Z" fill="#585354" stroke="#231f20" stroke-width="2.2" stroke-linejoin="round" /><path d="M1523.3,612.0 L1529.3,606.0" stroke="#231f20" stroke-width="0.8" opacity="0.6"/><path d="M1598.2,490.3 L1613.0,491.5 L1612.2,504.8 L1599.6,504.6 Z" fill="#585354" stroke="#231f20" stroke-width="2.2" stroke-linejoin="round" /><path d="M1602.7,500.5 L1608.7,494.5" stroke="#231f20" stroke-width="0.8" opacity="0.6"/><path d="M1599.4,519.8 L1612.2,519.7 L1612.0,532.7 L1599.6,533.1 Z" fill="#585354" stroke="#231f20" stroke-width="2.2" stroke-linejoin="round" /><path d="M1602.7,529.0 L1608.7,523.0" stroke="#231f20" stroke-width="0.8" opacity="0.6"/><path d="M1598.6,561.6 L1612.7,560.9 L1611.5,574.3 L1598.5,574.6 Z" fill="#585354" stroke="#231f20" stroke-width="2.2" stroke-linejoin="round" /><path d="M1602.7,570.5 L1608.7,564.5" stroke="#231f20" stroke-width="0.8" opacity="0.6"/><path d="M1599.0,588.9 L1612.7,588.8 L1612.1,602.0 L1599.5,602.4 Z" fill="#585354" stroke="#231f20" stroke-width="2.2" stroke-linejoin="round" /><path d="M1602.7,598.0 L1608.7,592.0" stroke="#231f20" stroke-width="0.8" opacity="0.6"/><path d="M1598.7,617.9 L1613.2,617.6 L1613.4,631.7 L1599.1,630.8 Z" fill="#585354" stroke="#231f20" stroke-width="2.2" stroke-linejoin="round" /><path d="M1602.7,627.0 L1608.7,621.0" stroke="#231f20" stroke-width="0.8" opacity="0.6"/><path d="M1492.9,491.4 L1507.8,490.7 L1507.3,504.7 L1494.0,503.6 Z" fill="#585354" stroke="#231f20" stroke-width="2.2" stroke-linejoin="round" /><path d="M1497.3,500.5 L1503.3,494.5" stroke="#231f20" stroke-width="0.8" opacity="0.6"/><path d="M1494.1,519.4 L1507.3,519.1 L1507.2,533.3 L1493.8,533.2 Z" fill="#585354" stroke="#231f20" stroke-width="2.2" stroke-linejoin="round" /><path d="M1497.3,529.0 L1503.3,523.0" stroke="#231f20" stroke-width="0.8" opacity="0.6"/><path d="M1492.6,560.1 L1506.8,561.1 L1506.4,574.6 L1493.8,573.3 Z" fill="#585354" stroke="#231f20" stroke-width="2.2" stroke-linejoin="round" /><path d="M1497.3,570.5 L1503.3,564.5" stroke="#231f20" stroke-width="0.8" opacity="0.6"/><path d="M1493.5,587.7 L1506.1,587.5 L1506.6,601.1 L1492.9,600.8 Z" fill="#585354" stroke="#231f20" stroke-width="2.2" stroke-linejoin="round" /><path d="M1497.3,598.0 L1503.3,592.0" stroke="#231f20" stroke-width="0.8" opacity="0.6"/><path d="M1493.5,617.0 L1507.2,617.4 L1506.4,631.6 L1492.6,630.6 Z" fill="#585354" stroke="#231f20" stroke-width="2.2" stroke-linejoin="round" /><path d="M1497.3,627.0 L1503.3,621.0" stroke="#231f20" stroke-width="0.8" opacity="0.6"/><path d="M1623.9,476.1 L1636.2,476.9 L1636.8,488.8 L1624.6,488.9 Z" fill="#585354" stroke="#231f20" stroke-width="2.2" stroke-linejoin="round" /><path d="M1627.7,486.0 L1633.7,480.0" stroke="#231f20" stroke-width="0.8" opacity="0.6"/><path d="M1624.4,503.9 L1637.2,505.2 L1637.7,517.6 L1625.0,518.0 Z" fill="#585354" stroke="#231f20" stroke-width="2.2" stroke-linejoin="round" /><path d="M1627.7,514.0 L1633.7,508.0" stroke="#231f20" stroke-width="0.8" opacity="0.6"/><path d="M1624.1,532.5 L1637.2,533.4 L1637.9,547.7 L1624.6,546.5 Z" fill="#585354" stroke="#231f20" stroke-width="2.2" stroke-linejoin="round" /><path d="M1627.7,543.0 L1633.7,537.0" stroke="#231f20" stroke-width="0.8" opacity="0.6"/><path d="M1625.1,572.3 L1636.2,573.4 L1637.2,586.0 L1624.6,587.5 Z" fill="#585354" stroke="#231f20" stroke-width="2.2" stroke-linejoin="round" /><path d="M1627.7,583.0 L1633.7,577.0" stroke="#231f20" stroke-width="0.8" opacity="0.6"/><path d="M1624.1,602.1 L1636.5,601.8 L1638.0,615.5 L1625.3,616.6 Z" fill="#585354" stroke="#231f20" stroke-width="2.2" stroke-linejoin="round" /><path d="M1627.7,612.0 L1633.7,606.0" stroke="#231f20" stroke-width="0.8" opacity="0.6"/><path d="M1469.2,475.8 L1482.6,476.2 L1481.5,489.4 L1470.0,489.7 Z" fill="#585354" stroke="#231f20" stroke-width="2.2" stroke-linejoin="round" /><path d="M1472.3,486.0 L1478.3,480.0" stroke="#231f20" stroke-width="0.8" opacity="0.6"/><path d="M1468.6,504.2 L1480.9,504.5 L1481.5,517.3 L1469.5,518.4 Z" fill="#585354" stroke="#231f20" stroke-width="2.2" stroke-linejoin="round" /><path d="M1472.3,514.0 L1478.3,508.0" stroke="#231f20" stroke-width="0.8" opacity="0.6"/><path d="M1468.0,533.3 L1481.2,534.1 L1482.2,546.2 L1468.5,546.1 Z" fill="#585354" stroke="#231f20" stroke-width="2.2" stroke-linejoin="round" /><path d="M1472.3,543.0 L1478.3,537.0" stroke="#231f20" stroke-width="0.8" opacity="0.6"/><path d="M1470.0,572.8 L1481.9,573.2 L1481.9,587.0 L1469.5,586.0 Z" fill="#585354" stroke="#231f20" stroke-width="2.2" stroke-linejoin="round" /><path d="M1472.3,583.0 L1478.3,577.0" stroke="#231f20" stroke-width="0.8" opacity="0.6"/><path d="M1469.5,601.9 L1481.7,601.9 L1481.2,615.8 L1468.9,615.5 Z" fill="#585354" stroke="#231f20" stroke-width="2.2" stroke-linejoin="round" /><path d="M1472.3,612.0 L1478.3,606.0" stroke="#231f20" stroke-width="0.8" opacity="0.6"/><path d="M1648.6,490.9 L1658.9,490.3 L1659.7,505.1 L1648.9,504.3 Z" fill="#585354" stroke="#231f20" stroke-width="2.2" stroke-linejoin="round" /><path d="M1651.0,500.5 L1657.0,494.5" stroke="#231f20" stroke-width="0.8" opacity="0.6"/><path d="M1647.2,519.8 L1659.6,519.4 L1660.2,533.0 L1648.1,533.6 Z" fill="#585354" stroke="#231f20" stroke-width="2.2" stroke-linejoin="round" /><path d="M1651.0,529.0 L1657.0,523.0" stroke="#231f20" stroke-width="0.8" opacity="0.6"/><path d="M1647.9,560.5 L1660.5,560.1 L1659.4,574.9 L1647.3,574.9 Z" fill="#585354" stroke="#231f20" stroke-width="2.2" stroke-linejoin="round" /><path d="M1651.0,570.5 L1657.0,564.5" stroke="#231f20" stroke-width="0.8" opacity="0.6"/><path d="M1648.5,588.1 L1659.4,588.8 L1660.6,601.0 L1648.1,601.8 Z" fill="#585354" stroke="#231f20" stroke-width="2.2" stroke-linejoin="round" /><path d="M1651.0,598.0 L1657.0,592.0" stroke="#231f20" stroke-width="0.8" opacity="0.6"/><path d="M1648.1,616.9 L1659.1,617.4 L1660.4,629.9 L1647.6,631.4 Z" fill="#585354" stroke="#231f20" stroke-width="2.2" stroke-linejoin="round" /><path d="M1651.0,627.0 L1657.0,621.0" stroke="#231f20" stroke-width="0.8" opacity="0.6"/><path d="M1446.8,491.1 L1456.9,491.2 L1458.8,505.2 L1446.6,503.3 Z" fill="#585354" stroke="#231f20" stroke-width="2.2" stroke-linejoin="round" /><path d="M1449.0,500.5 L1455.0,494.5" stroke="#231f20" stroke-width="0.8" opacity="0.6"/><path d="M1446.9,518.7 L1458.2,520.2 L1458.3,532.0 L1445.8,533.6 Z" fill="#585354" stroke="#231f20" stroke-width="2.2" stroke-linejoin="round" /><path d="M1449.0,529.0 L1455.0,523.0" stroke="#231f20" stroke-width="0.8" opacity="0.6"/><path d="M1445.5,561.0 L1457.7,560.1 L1458.1,573.3 L1445.4,574.0 Z" fill="#585354" stroke="#231f20" stroke-width="2.2" stroke-linejoin="round" /><path d="M1449.0,570.5 L1455.0,564.5" stroke="#231f20" stroke-width="0.8" opacity="0.6"/><path d="M1445.4,587.4 L1458.0,588.7 L1458.6,601.0 L1446.1,601.4 Z" fill="#585354" stroke="#231f20" stroke-width="2.2" stroke-linejoin="round" /><path d="M1449.0,598.0 L1455.0,592.0" stroke="#231f20" stroke-width="0.8" opacity="0.6"/><path d="M1446.4,617.2 L1458.7,617.0 L1457.0,631.1 L1445.5,631.0 Z" fill="#585354" stroke="#231f20" stroke-width="2.2" stroke-linejoin="round" /><path d="M1449.0,627.0 L1455.0,621.0" stroke="#231f20" stroke-width="0.8" opacity="0.6"/><path d="M1667.5,476.5 L1679.5,476.5 L1682.5,483.0 L1680.5,489.5 L1667.5,489.5 Z" fill="#585354" stroke="#231f20" stroke-width="2.2" stroke-linejoin="round" /><path d="M1667.5,504.5 L1679.5,504.5 L1682.5,511.0 L1680.5,517.5 L1667.5,517.5 Z" fill="#585354" stroke="#231f20" stroke-width="2.2" stroke-linejoin="round" /><path d="M1667.5,533.5 L1679.5,533.5 L1682.5,540.0 L1680.5,546.5 L1667.5,546.5 Z" fill="#585354" stroke="#231f20" stroke-width="2.2" stroke-linejoin="round" /><path d="M1667.5,573.5 L1679.5,573.5 L1682.5,580.0 L1680.5,586.5 L1667.5,586.5 Z" fill="#585354" stroke="#231f20" stroke-width="2.2" stroke-linejoin="round" /><path d="M1667.5,602.5 L1679.5,602.5 L1682.5,609.0 L1680.5,615.5 L1667.5,615.5 Z" fill="#585354" stroke="#231f20" stroke-width="2.2" stroke-linejoin="round" /><path d="M1438.5,476.5 L1426.5,476.5 L1423.5,483.0 L1425.5,489.5 L1438.5,489.5 Z" fill="#585354" stroke="#231f20" stroke-width="2.2" stroke-linejoin="round" /><path d="M1438.5,504.5 L1426.5,504.5 L1423.5,511.0 L1425.5,517.5 L1438.5,517.5 Z" fill="#585354" stroke="#231f20" stroke-width="2.2" stroke-linejoin="round" /><path d="M1438.5,533.5 L1426.5,533.5 L1423.5,540.0 L1425.5,546.5 L1438.5,546.5 Z" fill="#585354" stroke="#231f20" stroke-width="2.2" stroke-linejoin="round" /><path d="M1438.5,573.5 L1426.5,573.5 L1423.5,580.0 L1425.5,586.5 L1438.5,586.5 Z" fill="#585354" stroke="#231f20" stroke-width="2.2" stroke-linejoin="round" /><path d="M1438.5,602.5 L1426.5,602.5 L1423.5,609.0 L1425.5,615.5 L1438.5,615.5 Z" fill="#585354" stroke="#231f20" stroke-width="2.2" stroke-linejoin="round" /><path d="M1687.2,491.0 L1700.2,492.0 L1705.2,497.5 L1702.2,504.0 L1687.2,504.0 Z" fill="#585354" stroke="#231f20" stroke-width="2.2" stroke-linejoin="round" /><path d="M1687.2,519.5 L1700.2,520.5 L1705.2,526.0 L1702.2,532.5 L1687.2,532.5 Z" fill="#585354" stroke="#231f20" stroke-width="2.2" stroke-linejoin="round" /><path d="M1687.2,561.0 L1700.2,562.0 L1705.2,567.5 L1702.2,574.0 L1687.2,574.0 Z" fill="#585354" stroke="#231f20" stroke-width="2.2" stroke-linejoin="round" /><path d="M1687.2,588.5 L1700.2,589.5 L1705.2,595.0 L1702.2,601.5 L1687.2,601.5 Z" fill="#585354" stroke="#231f20" stroke-width="2.2" stroke-linejoin="round" /><path d="M1687.2,617.5 L1700.2,618.5 L1705.2,624.0 L1702.2,630.5 L1687.2,630.5 Z" fill="#585354" stroke="#231f20" stroke-width="2.2" stroke-linejoin="round" /><path d="M1418.8,491.0 L1405.8,492.0 L1400.8,497.5 L1403.8,504.0 L1418.8,504.0 Z" fill="#585354" stroke="#231f20" stroke-width="2.2" stroke-linejoin="round" /><path d="M1418.8,519.5 L1405.8,520.5 L1400.8,526.0 L1403.8,532.5 L1418.8,532.5 Z" fill="#585354" stroke="#231f20" stroke-width="2.2" stroke-linejoin="round" /><path d="M1418.8,561.0 L1405.8,562.0 L1400.8,567.5 L1403.8,574.0 L1418.8,574.0 Z" fill="#585354" stroke="#231f20" stroke-width="2.2" stroke-linejoin="round" /><path d="M1418.8,588.5 L1405.8,589.5 L1400.8,595.0 L1403.8,601.5 L1418.8,601.5 Z" fill="#585354" stroke="#231f20" stroke-width="2.2" stroke-linejoin="round" /><path d="M1418.8,617.5 L1405.8,618.5 L1400.8,624.0 L1403.8,630.5 L1418.8,630.5 Z" fill="#585354" stroke="#231f20" stroke-width="2.2" stroke-linejoin="round" /><path d="M1702.6,476.5 L1715.6,477.5 L1720.6,483.0 L1717.6,489.5 L1702.6,489.5 Z" fill="#585354" stroke="#231f20" stroke-width="2.2" stroke-linejoin="round" /><path d="M1702.6,504.5 L1715.6,505.5 L1720.6,511.0 L1717.6,517.5 L1702.6,517.5 Z" fill="#585354" stroke="#231f20" stroke-width="2.2" stroke-linejoin="round" /><path d="M1702.6,533.5 L1715.6,534.5 L1720.6,540.0 L1717.6,546.5 L1702.6,546.5 Z" fill="#585354" stroke="#231f20" stroke-width="2.2" stroke-linejoin="round" /><path d="M1702.6,573.5 L1715.6,574.5 L1720.6,580.0 L1717.6,586.5 L1702.6,586.5 Z" fill="#585354" stroke="#231f20" stroke-width="2.2" stroke-linejoin="round" /><path d="M1702.6,602.5 L1715.6,603.5 L1720.6,609.0 L1717.6,615.5 L1702.6,615.5 Z" fill="#585354" stroke="#231f20" stroke-width="2.2" stroke-linejoin="round" /><path d="M1403.4,476.5 L1390.4,477.5 L1385.4,483.0 L1388.4,489.5 L1403.4,489.5 Z" fill="#585354" stroke="#231f20" stroke-width="2.2" stroke-linejoin="round" /><path d="M1403.4,504.5 L1390.4,505.5 L1385.4,511.0 L1388.4,517.5 L1403.4,517.5 Z" fill="#585354" stroke="#231f20" stroke-width="2.2" stroke-linejoin="round" /><path d="M1403.4,533.5 L1390.4,534.5 L1385.4,540.0 L1388.4,546.5 L1403.4,546.5 Z" fill="#585354" stroke="#231f20" stroke-width="2.2" stroke-linejoin="round" /><path d="M1403.4,573.5 L1390.4,574.5 L1385.4,580.0 L1388.4,586.5 L1403.4,586.5 Z" fill="#585354" stroke="#231f20" stroke-width="2.2" stroke-linejoin="round" /><path d="M1403.4,602.5 L1390.4,603.5 L1385.4,609.0 L1388.4,615.5 L1403.4,615.5 Z" fill="#585354" stroke="#231f20" stroke-width="2.2" stroke-linejoin="round" /><path d="M1714.0,491.0 L1729.0,492.0 L1734.0,497.5 L1731.0,504.0 L1714.0,504.0 Z" fill="#585354" stroke="#231f20" stroke-width="2.2" stroke-linejoin="round" /><path d="M1714.0,519.5 L1729.0,520.5 L1734.0,526.0 L1731.0,532.5 L1714.0,532.5 Z" fill="#585354" stroke="#231f20" stroke-width="2.2" stroke-linejoin="round" /><path d="M1714.0,561.0 L1729.0,562.0 L1734.0,567.5 L1731.0,574.0 L1714.0,574.0 Z" fill="#585354" stroke="#231f20" stroke-width="2.2" stroke-linejoin="round" /><path d="M1714.0,588.5 L1729.0,589.5 L1734.0,595.0 L1731.0,601.5 L1714.0,601.5 Z" fill="#585354" stroke="#231f20" stroke-width="2.2" stroke-linejoin="round" /><path d="M1714.0,617.5 L1729.0,618.5 L1734.0,624.0 L1731.0,630.5 L1714.0,630.5 Z" fill="#585354" stroke="#231f20" stroke-width="2.2" stroke-linejoin="round" /><path d="M1392.0,491.0 L1377.0,492.0 L1372.0,497.5 L1375.0,504.0 L1392.0,504.0 Z" fill="#585354" stroke="#231f20" stroke-width="2.2" stroke-linejoin="round" /><path d="M1392.0,519.5 L1377.0,520.5 L1372.0,526.0 L1375.0,532.5 L1392.0,532.5 Z" fill="#585354" stroke="#231f20" stroke-width="2.2" stroke-linejoin="round" /><path d="M1392.0,561.0 L1377.0,562.0 L1372.0,567.5 L1375.0,574.0 L1392.0,574.0 Z" fill="#585354" stroke="#231f20" stroke-width="2.2" stroke-linejoin="round" /><path d="M1392.0,588.5 L1377.0,589.5 L1372.0,595.0 L1375.0,601.5 L1392.0,601.5 Z" fill="#585354" stroke="#231f20" stroke-width="2.2" stroke-linejoin="round" /><path d="M1392.0,617.5 L1377.0,618.5 L1372.0,624.0 L1375.0,630.5 L1392.0,630.5 Z" fill="#585354" stroke="#231f20" stroke-width="2.2" stroke-linejoin="round" /></g><path d="M847.0,824.0 L920.0,737.0 L935.0,727.0 L1083.0,710.0 L1180.0,699.0 L1329.0,731.0 L1347.0,822.0 L1347.0,1180.0 L1329.0,1271.0 L1180.0,1305.0 L927.0,1274.0 L847.0,1179.0 Z" fill="#6a6565" stroke="#231f20" stroke-width="3" stroke-linejoin="round" /><path d="M857.5,824.0 L927.5,742.5 L1083.0,720.0 L1179.0,712.5 L1318.0,740.0 L1333.0,822.5 Z" fill="#6e6a6a" stroke="#231f20" stroke-width="1.5" stroke-linejoin="round" /><path d="M870.0,824.0 L932.0,752.0 L1083.0,731.0 L1179.0,724.0 L1310.0,750.0 L1322.0,822.0 Z" fill="#727070" stroke="#231f20" stroke-width="1.2" stroke-linejoin="round" /><path d="M857.5,1179.0 L930.0,1264.0 L1180.0,1294.0 L1318.0,1262.0 L1333.0,1180.0 Z" fill="#6f6b6b" stroke="#231f20" stroke-width="1.5" stroke-linejoin="round" /><path d="M870.0,1179.0 L934.0,1254.0 L1180.0,1283.0 L1310.0,1252.0 L1322.0,1180.0 Z" fill="#727070" stroke="#231f20" stroke-width="1.2" stroke-linejoin="round" /><path d="M928,763.5 h8 v8 h-8 z M946,745.5 v8 h8 v-8 z" fill="#6f6b6b" stroke="#231f20" stroke-width="1.5"/><circle cx="950" cy="767.5" r="16" fill="#6f6b6b" stroke="#231f20" stroke-width="2.2"/><circle cx="950" cy="767.5" r="6.5" fill="#7a7676" stroke="#231f20" stroke-width="2"/><path d="M1271,781 h8 v8 h-8 z M1289,799 v8 h8 v-8 z" fill="#6f6b6b" stroke="#231f20" stroke-width="1.5"/><circle cx="1293" cy="785" r="16" fill="#6f6b6b" stroke="#231f20" stroke-width="2.2"/><circle cx="1293" cy="785" r="6.5" fill="#7a7676" stroke="#231f20" stroke-width="2"/><path d="M928,1231 h8 v8 h-8 z M946,1249 v8 h8 v-8 z" fill="#6f6b6b" stroke="#231f20" stroke-width="1.5"/><circle cx="950" cy="1235" r="16" fill="#6f6b6b" stroke="#231f20" stroke-width="2.2"/><circle cx="950" cy="1235" r="6.5" fill="#7a7676" stroke="#231f20" stroke-width="2"/><path d="M1271,1213 h8 v8 h-8 z M1289,1195 v8 h8 v-8 z" fill="#6f6b6b" stroke="#231f20" stroke-width="1.5"/><circle cx="1293" cy="1217" r="16" fill="#6f6b6b" stroke="#231f20" stroke-width="2.2"/><circle cx="1293" cy="1217" r="6.5" fill="#7a7676" stroke="#231f20" stroke-width="2"/><path d="M985.0,746.0 L1154.0,746.0 L1154.0,824.0 L985.0,824.0 Z" fill="#6c5d4f" stroke="#231f20" stroke-width="2.5" stroke-linejoin="round" /><path d="M1027,746 V788 Q1027,792 1022,795 L1012,800 L1012,824" fill="none" stroke="#231f20" stroke-width="1.5"/><rect x="997" y="770" width="8" height="8" rx="1.5" fill="none" stroke="#231f20" stroke-width="1.5"/><circle cx="1020" cy="774" r="3" fill="none" stroke="#231f20" stroke-width="1.5"/><path d="M1154,824 V760 Q1154,756 1158,756 L1199,756 Q1203,756 1203,760 V824" fill="#747272" stroke="#231f20" stroke-width="1.3"/><path d="M1045.0,1180.0 L1232.0,1180.0 L1232.0,1267.0 L1045.0,1267.0 Z" fill="#6c5d4f" stroke="#231f20" stroke-width="2.5" stroke-linejoin="round" /><circle cx="1139" cy="1207" r="44" fill="#67594c" stroke="#231f20" stroke-width="1.5"/><circle cx="1139" cy="1207" r="36" fill="none" stroke="#231f20" stroke-width="1.2"/><circle cx="1139" cy="1205" r="26" fill="#6c5d4f" stroke="#231f20" stroke-width="1"/><circle cx="1213" cy="1188" r="8" fill="none" stroke="#231f20" stroke-width="1.5"/><circle cx="1213" cy="1209" r="8" fill="none" stroke="#231f20" stroke-width="1.5"/><circle cx="1213" cy="1230" r="8" fill="none" stroke="#231f20" stroke-width="1.5"/><circle cx="1213" cy="1251" r="8" fill="none" stroke="#231f20" stroke-width="1.5"/><rect x="1055" y="1202" width="20" height="48" fill="#6c5d4f" stroke="#231f20" stroke-width="1.5"/><circle cx="1094" cy="1246" r="9" fill="#ffea00" stroke="#231f20" stroke-width="2.2"/><path d="M1090.0,1246 h8.1 M1094,1242.0 v8.1" stroke="#8a7a10" stroke-width="2.2" stroke-linecap="round"/><circle cx="1186" cy="1246" r="9" fill="#ffea00" stroke="#231f20" stroke-width="2.2"/><path d="M1182.0,1246 h8.1 M1186,1242.0 v8.1" stroke="#8a7a10" stroke-width="2.2" stroke-linecap="round"/><rect x="990" y="1180" width="47" height="77" rx="4" fill="#6c6868" stroke="#231f20" stroke-width="2"/><rect x="996" y="1190" width="35" height="60" fill="#767272" stroke="#231f20" stroke-width="1.3"/><circle cx="1010" cy="1198" r="8" fill="none" stroke="#231f20" stroke-width="1.2"/><path d="M1580.0,642.0 L1637.5,642.0 L1640.0,700.0 L1640.0,790.0 L1600.0,830.0 L1560.0,850.0 L1540.0,850.0 L1540.0,700.0 Z" fill="#878383" stroke="#231f20" stroke-width="2.5" stroke-linejoin="round" /><path d="M1589,721 L1596,721 L1600,765 L1592,767 Z" fill="#fff" stroke="#231f20" stroke-width="1.8"/><path d="M1478.0,642.0 L1506.0,642.0 L1512.0,780.0 L1490.0,830.0 L1470.0,845.0 L1455.0,845.0 L1478.0,760.0 Z" fill="#8f8c8c" stroke="#231f20" stroke-width="2.5" stroke-linejoin="round" /><path d="M1510,772 Q1495,776 1490,800 L1490,817 Q1505,812 1510,800 Z" fill="#fff" stroke="#231f20" stroke-width="2"/><path d="M1505.6,642.0 L1600.0,642.0 L1600.0,702.5 L1587.5,714.0 L1586.0,809.0 L1600.0,825.0 L1620.0,835.0 L1640.0,850.0 L1660.0,900.0 L1480.0,900.0 L1487.5,845.0 L1505.0,807.5 L1512.5,784.0 L1512.5,714.0 L1506.0,702.5 Z" fill="#8e8b8b" stroke="#231f20" stroke-width="2.5" stroke-linejoin="round" /><path d="M1519,718 L1519,790 L1510,812 L1495,830 M1580,718 L1580,812 L1600,832" fill="none" stroke="#231f20" stroke-width="1.3" opacity="0.6"/><rect x="1535" y="642" width="37.5" height="45.5" fill="#6f6b6b" stroke="#231f20" stroke-width="2.2"/><rect x="1537" y="644" width="33" height="18" fill="#9cb6ca"/><path d="M1537,666 L1570,664 L1570,683 L1537,683 Z" fill="#88cfc3" stroke="#231f20" stroke-width="1.8"/><path d="M1537.5,716 Q1537.5,710 1544,710 L1556,710 Q1561,710 1561,716 L1561,797 L1543,802.5 Q1537.5,803 1537.5,797 Z" fill="#88cfc3" stroke="#231f20" stroke-width="2.2"/><path d="M1498.8,843.8 L1528.8,813.8 L1545.0,813.8 L1515.0,843.8 Z" fill="#6d6969" stroke="#231f20" stroke-width="2" stroke-linejoin="round" /><path d="M1521.0,820.0 L1528.8,813.8 L1536.0,813.8 L1530.0,820.0 Z" fill="#fff" stroke="#231f20" stroke-width="1" stroke-linejoin="round" /><rect x="1408.75" y="655" width="80" height="190" rx="38" fill="#5e5a5a" stroke="#231f20" stroke-width="2.5"/><path d="M1411,686.0 Q1449,664.0 1487,686.0" fill="none" stroke="#231f20" stroke-width="5"/><path d="M1411,686.0 Q1449,664.0 1487,686.0" fill="none" stroke="#c9e9f6" stroke-width="2.6"/><path d="M1411,696.6 Q1449,674.6 1487,696.6" fill="none" stroke="#231f20" stroke-width="5"/><path d="M1411,696.6 Q1449,674.6 1487,696.6" fill="none" stroke="#c9e9f6" stroke-width="2.6"/><path d="M1411,707.2 Q1449,685.2 1487,707.2" fill="none" stroke="#231f20" stroke-width="5"/><path d="M1411,707.2 Q1449,685.2 1487,707.2" fill="none" stroke="#c9e9f6" stroke-width="2.6"/><path d="M1411,717.8 Q1449,695.8 1487,717.8" fill="none" stroke="#231f20" stroke-width="5"/><path d="M1411,717.8 Q1449,695.8 1487,717.8" fill="none" stroke="#c9e9f6" stroke-width="2.6"/><path d="M1411,728.4 Q1449,706.4 1487,728.4" fill="none" stroke="#231f20" stroke-width="5"/><path d="M1411,728.4 Q1449,706.4 1487,728.4" fill="none" stroke="#c9e9f6" stroke-width="2.6"/><path d="M1411,739.0 Q1449,717.0 1487,739.0" fill="none" stroke="#231f20" stroke-width="5"/><path d="M1411,739.0 Q1449,717.0 1487,739.0" fill="none" stroke="#c9e9f6" stroke-width="2.6"/><path d="M1411,749.6 Q1449,727.6 1487,749.6" fill="none" stroke="#231f20" stroke-width="5"/><path d="M1411,749.6 Q1449,727.6 1487,749.6" fill="none" stroke="#c9e9f6" stroke-width="2.6"/><path d="M1411,760.2 Q1449,738.2 1487,760.2" fill="none" stroke="#231f20" stroke-width="5"/><path d="M1411,760.2 Q1449,738.2 1487,760.2" fill="none" stroke="#c9e9f6" stroke-width="2.6"/><path d="M1411,770.8 Q1449,748.8 1487,770.8" fill="none" stroke="#231f20" stroke-width="5"/><path d="M1411,770.8 Q1449,748.8 1487,770.8" fill="none" stroke="#c9e9f6" stroke-width="2.6"/><path d="M1410,775 Q1449,752 1488,775" fill="none" stroke="#231f20" stroke-width="2"/><rect x="1420" y="764" width="8" height="13" rx="4" fill="none" stroke="#231f20" stroke-width="1.3"/><rect x="1442" y="764" width="8" height="13" rx="4" fill="none" stroke="#231f20" stroke-width="1.3"/><rect x="1465" y="764" width="8" height="13" rx="4" fill="none" stroke="#231f20" stroke-width="1.3"/><path d="M1412,795 Q1449,772 1486,795" fill="none" stroke="#231f20" stroke-width="1.3" opacity="0.6"/><rect x="1400.6" y="787.5" width="26.4" height="58.5" fill="#8a8787" stroke="#231f20" stroke-width="2.5"/><rect x="1438.75" y="796" width="20" height="44" fill="#6d6969" stroke="#231f20" stroke-width="2"/><path d="M1430,810 L1436,815 L1436,826 L1430,830 Z" fill="#ffea00" stroke="#231f20" stroke-width="1.2"/><path d="M1430,840 Q1444,830 1455,840 L1455,848 L1430,848 Z" fill="#6d6969" stroke="#231f20" stroke-width="1.8"/><path d="M1400,848 Q1445,843 1487,848 L1487,854 Q1445,850 1400,854 Z" fill="#8a8787" stroke="#231f20" stroke-width="1.8"/><rect x="1432" y="649" width="18" height="7" rx="2" fill="#6d6969" stroke="#231f20" stroke-width="1.5"/><ellipse cx="1501" cy="654" rx="4.5" ry="9" fill="#ffea00" stroke="#231f20" stroke-width="1.5"/><ellipse cx="1604" cy="648" rx="3" ry="7" fill="#ffea00" stroke="#231f20" stroke-width="1.3"/><ellipse cx="1432" cy="654" rx="6" ry="4" fill="#ffea00" stroke="#231f20" stroke-width="1.3"/><g transform="translate(0,2003.5) scale(1,-1)"><path d="M1580.0,642.0 L1637.5,642.0 L1640.0,700.0 L1640.0,790.0 L1600.0,830.0 L1560.0,850.0 L1540.0,850.0 L1540.0,700.0 Z" fill="#878383" stroke="#231f20" stroke-width="2.5" stroke-linejoin="round" /><path d="M1589,721 L1596,721 L1600,765 L1592,767 Z" fill="#fff" stroke="#231f20" stroke-width="1.8"/><path d="M1478.0,642.0 L1506.0,642.0 L1512.0,780.0 L1490.0,830.0 L1470.0,845.0 L1455.0,845.0 L1478.0,760.0 Z" fill="#8f8c8c" stroke="#231f20" stroke-width="2.5" stroke-linejoin="round" /><path d="M1510,772 Q1495,776 1490,800 L1490,817 Q1505,812 1510,800 Z" fill="#fff" stroke="#231f20" stroke-width="2"/><path d="M1505.6,642.0 L1600.0,642.0 L1600.0,702.5 L1587.5,714.0 L1586.0,809.0 L1600.0,825.0 L1620.0,835.0 L1640.0,850.0 L1660.0,900.0 L1480.0,900.0 L1487.5,845.0 L1505.0,807.5 L1512.5,784.0 L1512.5,714.0 L1506.0,702.5 Z" fill="#8e8b8b" stroke="#231f20" stroke-width="2.5" stroke-linejoin="round" /><path d="M1519,718 L1519,790 L1510,812 L1495,830 M1580,718 L1580,812 L1600,832" fill="none" stroke="#231f20" stroke-width="1.3" opacity="0.6"/><rect x="1535" y="642" width="37.5" height="45.5" fill="#6f6b6b" stroke="#231f20" stroke-width="2.2"/><rect x="1537" y="644" width="33" height="18" fill="#9cb6ca"/><path d="M1537,666 L1570,664 L1570,683 L1537,683 Z" fill="#88cfc3" stroke="#231f20" stroke-width="1.8"/><path d="M1537.5,716 Q1537.5,710 1544,710 L1556,710 Q1561,710 1561,716 L1561,797 L1543,802.5 Q1537.5,803 1537.5,797 Z" fill="#88cfc3" stroke="#231f20" stroke-width="2.2"/><path d="M1498.8,843.8 L1528.8,813.8 L1545.0,813.8 L1515.0,843.8 Z" fill="#6d6969" stroke="#231f20" stroke-width="2" stroke-linejoin="round" /><path d="M1521.0,820.0 L1528.8,813.8 L1536.0,813.8 L1530.0,820.0 Z" fill="#fff" stroke="#231f20" stroke-width="1" stroke-linejoin="round" /><rect x="1408.75" y="655" width="80" height="190" rx="38" fill="#5e5a5a" stroke="#231f20" stroke-width="2.5"/><path d="M1411,686.0 Q1449,664.0 1487,686.0" fill="none" stroke="#231f20" stroke-width="5"/><path d="M1411,686.0 Q1449,664.0 1487,686.0" fill="none" stroke="#c9e9f6" stroke-width="2.6"/><path d="M1411,696.6 Q1449,674.6 1487,696.6" fill="none" stroke="#231f20" stroke-width="5"/><path d="M1411,696.6 Q1449,674.6 1487,696.6" fill="none" stroke="#c9e9f6" stroke-width="2.6"/><path d="M1411,707.2 Q1449,685.2 1487,707.2" fill="none" stroke="#231f20" stroke-width="5"/><path d="M1411,707.2 Q1449,685.2 1487,707.2" fill="none" stroke="#c9e9f6" stroke-width="2.6"/><path d="M1411,717.8 Q1449,695.8 1487,717.8" fill="none" stroke="#231f20" stroke-width="5"/><path d="M1411,717.8 Q1449,695.8 1487,717.8" fill="none" stroke="#c9e9f6" stroke-width="2.6"/><path d="M1411,728.4 Q1449,706.4 1487,728.4" fill="none" stroke="#231f20" stroke-width="5"/><path d="M1411,728.4 Q1449,706.4 1487,728.4" fill="none" stroke="#c9e9f6" stroke-width="2.6"/><path d="M1411,739.0 Q1449,717.0 1487,739.0" fill="none" stroke="#231f20" stroke-width="5"/><path d="M1411,739.0 Q1449,717.0 1487,739.0" fill="none" stroke="#c9e9f6" stroke-width="2.6"/><path d="M1411,749.6 Q1449,727.6 1487,749.6" fill="none" stroke="#231f20" stroke-width="5"/><path d="M1411,749.6 Q1449,727.6 1487,749.6" fill="none" stroke="#c9e9f6" stroke-width="2.6"/><path d="M1411,760.2 Q1449,738.2 1487,760.2" fill="none" stroke="#231f20" stroke-width="5"/><path d="M1411,760.2 Q1449,738.2 1487,760.2" fill="none" stroke="#c9e9f6" stroke-width="2.6"/><path d="M1411,770.8 Q1449,748.8 1487,770.8" fill="none" stroke="#231f20" stroke-width="5"/><path d="M1411,770.8 Q1449,748.8 1487,770.8" fill="none" stroke="#c9e9f6" stroke-width="2.6"/><path d="M1410,775 Q1449,752 1488,775" fill="none" stroke="#231f20" stroke-width="2"/><rect x="1420" y="764" width="8" height="13" rx="4" fill="none" stroke="#231f20" stroke-width="1.3"/><rect x="1442" y="764" width="8" height="13" rx="4" fill="none" stroke="#231f20" stroke-width="1.3"/><rect x="1465" y="764" width="8" height="13" rx="4" fill="none" stroke="#231f20" stroke-width="1.3"/><path d="M1412,795 Q1449,772 1486,795" fill="none" stroke="#231f20" stroke-width="1.3" opacity="0.6"/><rect x="1400.6" y="787.5" width="26.4" height="58.5" fill="#8a8787" stroke="#231f20" stroke-width="2.5"/><rect x="1438.75" y="796" width="20" height="44" fill="#6d6969" stroke="#231f20" stroke-width="2"/><path d="M1430,810 L1436,815 L1436,826 L1430,830 Z" fill="#ffea00" stroke="#231f20" stroke-width="1.2"/><path d="M1430,840 Q1444,830 1455,840 L1455,848 L1430,848 Z" fill="#6d6969" stroke="#231f20" stroke-width="1.8"/><path d="M1400,848 Q1445,843 1487,848 L1487,854 Q1445,850 1400,854 Z" fill="#8a8787" stroke="#231f20" stroke-width="1.8"/><rect x="1432" y="649" width="18" height="7" rx="2" fill="#6d6969" stroke="#231f20" stroke-width="1.5"/><ellipse cx="1501" cy="654" rx="4.5" ry="9" fill="#ffea00" stroke="#231f20" stroke-width="1.5"/><ellipse cx="1604" cy="648" rx="3" ry="7" fill="#ffea00" stroke="#231f20" stroke-width="1.3"/><ellipse cx="1432" cy="654" rx="6" ry="4" fill="#ffea00" stroke="#231f20" stroke-width="1.3"/></g><g id="rh" clip-path="url(#cr)"><path d="M712.0,852.0 L1368.0,852.0 L1368.0,900.0 L712.0,900.0 Z" fill="#6a6565" stroke="#231f20" stroke-width="2.0" stroke-linejoin="round" /><path d="M760,872 H1340 M760,882 H1340" stroke="#231f20" stroke-width="1" opacity="0.5"/><rect x="1046" y="853" width="106" height="15" fill="#6c5d4f" stroke="#231f20" stroke-width="1.5"/><rect x="1046" y="869" width="106" height="10" fill="#7d7979" stroke="#231f20" stroke-width="1.2"/><path d="M481.0,862.5 L516.0,855.0 L570.0,846.0 L620.0,840.0 L712.0,840.0 L712.0,880.0 L620.0,874.0 L590.0,874.0 L527.0,880.0 L460.0,894.0 Z" fill="#6b6767" stroke="#231f20" stroke-width="2.2" stroke-linejoin="round" /><path d="M481.0,862.0 L516.0,855.0 L520.0,862.0 L505.0,876.0 L481.0,880.0 Z" fill="#cfcccb" stroke="#231f20" stroke-width="1.8" stroke-linejoin="round" /><path d="M570.0,841.0 L618.8,835.0 L701.5,825.0 L1367.0,825.0 L1367.0,853.0 L701.5,856.0 L619.0,865.0 L570.0,872.0 Z" fill="#cfcccb" stroke="#231f20" stroke-width="2.5" stroke-linejoin="round" /><path d="M570,841 Q556,856 570,872" fill="#cfcccb" stroke="#231f20" stroke-width="2.5"/><path d="M590.6,829 H619.4 V837 L605.0,854.5 L619.4,872 V880 H590.6 V872 L605.0,854.5 L590.6,837 Z" fill="#cfcccb" stroke="#231f20" stroke-width="2.2"/><path d="M594.6,841 L615.4,868 M615.4,841 L594.6,868" stroke="#231f20" stroke-width="1.5"/><path d="M762.5,816 H791 V824 L776.75,840.5 L791,857 V865 H762.5 V857 L776.75,840.5 L762.5,824 Z" fill="#cfcccb" stroke="#231f20" stroke-width="2.2"/><path d="M766.5,828 L787,853 M787,828 L766.5,853" stroke="#231f20" stroke-width="1.5"/><rect x="841" y="832.5" width="24" height="13.5" rx="5" fill="#cfcccb" stroke="#231f20" stroke-width="2"/><path d="M880,853 Q880,878 895,878 Q910,878 910,853 Z" fill="#d9d6d4" stroke="#231f20" stroke-width="2"/><circle cx="895" cy="865" r="5" fill="#6f6b6b" stroke="#231f20" stroke-width="1.5"/><path d="M866,853 Q868,890 895,890 Q922,890 924,853" fill="none" stroke="#231f20" stroke-width="1.5"/><path d="M980,852 L1031,852 L1031,884 L982,884 Z" fill="#cfcccb" stroke="#231f20" stroke-width="2"/><path d="M1205.6,838 H1240 V883 H1205.6 Z" fill="#cfcccb" stroke="#231f20" stroke-width="2"/><path d="M1222,838 V883" stroke="#231f20" stroke-width="1.2"/><rect x="1153" y="852.5" width="55" height="31.5" fill="#cfcccb" stroke="#231f20" stroke-width="2"/><circle cx="1262" cy="861" r="17" fill="#444041"/><circle cx="1262" cy="861" r="11" fill="#ffea00" stroke="#231f20" stroke-width="2.2"/><path d="M1257.0,861 h9.9 M1262,856.0 v9.9" stroke="#8a7a10" stroke-width="2.8" stroke-linecap="round"/><path d="M725,860 L830,860 L830,888 L725,888 Z" fill="#f2f2f2" stroke="#231f20" stroke-width="2"/><path d="M790,860 V888 M815,858 Q820,874 815,890" stroke="#231f20" stroke-width="1.3" fill="none"/><path d="M1367,829 L1388,829 L1399,855 L1367,855 Z" fill="#97a6b1" stroke="#231f20" stroke-width="2"/><path d="M1271,828 Q1262,838 1272,850 L1305,870 L1318,857 L1290,832 Q1282,826 1271,828 Z" fill="#cfcccb" stroke="#231f20" stroke-width="2.2"/><path d="M1305,852 L1338,852 L1338,862 L1305,872 Z" fill="#cfcccb" stroke="#231f20" stroke-width="1.8"/><rect x="1318" y="853" width="100" height="22" fill="#cfcccb" stroke="#231f20" stroke-width="1.8"/><path d="M1349,853 V870 M1374,853 V872 M1393,853 V873" stroke="#231f20" stroke-width="1" opacity="0.6"/><path d="M1305,859 Q1300,866 1310,878 Q1328,898 1355,900 L1418,901.6 L1418,874 L1355,870 Q1335,866 1318,856 Q1310,854 1305,859 Z" fill="#cfcccb" stroke="#231f20" stroke-width="2.4"/><path d="M1331.5,893.0 L1519.0,893.0 L1519.0,906.0 L1331.5,906.0 Z" fill="#cfcccb" stroke="#231f20" stroke-width="2" stroke-linejoin="round" /><path d="M1418.0,857.5 L1519.0,857.5 L1519.0,906.0 L1418.0,906.0 Z" fill="#cfcccb" stroke="#231f20" stroke-width="2.4" stroke-linejoin="round" /><path d="M1460,857.5 V874 Q1450,880 1452,893 Q1455,904 1460,906 M1482,857.5 V874 Q1492,880 1490,893 Q1487,904 1482,906" fill="none" stroke="#231f20" stroke-width="2"/><path d="M1400,850 Q1445,845 1487,850" fill="none" stroke="#231f20" stroke-width="2"/></g><use href="#rh" transform="translate(0,2003.5) scale(1,-1)"/><path d="M1046.0,1117.0 L1152.0,1117.0 L1152.0,1150.0 L1046.0,1150.0 Z" fill="#6c5d4f" stroke="#231f20" stroke-width="2.0" stroke-linejoin="round" /><rect x="1071" y="1135" width="8" height="8" fill="none" stroke="#231f20" stroke-width="1.3"/><circle cx="1102" cy="1134" r="3.5" fill="none" stroke="#231f20" stroke-width="1.3"/><path d="M1122,1117 V1150" stroke="#231f20" stroke-width="1" opacity="0.6"/><ellipse cx="1095" cy="1148" rx="8" ry="3" fill="#ffea00" stroke="#231f20" stroke-width="1"/><g id="dh" clip-path="url(#ct)"><path d="M415,905 L436,904 L460,894 L527.5,880 L591,874 L650,870 L701.5,867.5 L712,870 L712,1010 L415,1010 Z" fill="#f4f4f4" stroke="#231f20" stroke-width="2.5"/><path d="M435,904 L435,915 Q445,918 455,925 L461,932.5 L601,930 L701.5,927.5" fill="none" stroke="#231f20" stroke-width="2"/><path d="M515,890 Q530,912 540,916 L678.75,896 L701,898" fill="none" stroke="#231f20" stroke-width="1.6"/><path d="M460,950 L666,942.5 M460,962.5 L612.5,955" fill="none" stroke="#231f20" stroke-width="1.4" opacity="0.8"/><path d="M578.75,1010 V976 L427.5,975 L420,1002.5" fill="none" stroke="#231f20" stroke-width="2.2"/><path d="M445,980 L440,1002" fill="none" stroke="#231f20" stroke-width="1" opacity="0.6"/><rect x="415" y="922.5" width="10" height="15" fill="#fff" stroke="#231f20" stroke-width="1.8"/><path d="M712,930 L700,935 Q694,1002 700,1010 L712,1010 Z" fill="#6c5d4f" stroke="#231f20" stroke-width="1.8"/><path d="M712,900 L702,900 L702,925 L712,925 Z" fill="#fff" stroke="#231f20" stroke-width="1.5"/><path d="M598,1010 A49.5,49.5 0 0 1 697,1010" fill="none" stroke="#231f20" stroke-width="1.8"/><path d="M604,1010 A43.5,43.5 0 0 1 691,1010" fill="none" stroke="#231f20" stroke-width="1.2"/><path d="M600,958 L700,958" fill="none" stroke="#231f20" stroke-width="1.5"/><circle cx="443.75" cy="930" r="11" fill="#ffea00" stroke="#231f20" stroke-width="2.2"/><path d="M438.8,930 h9.9 M443.75,925.0 v9.9" stroke="#8a7a10" stroke-width="2.8" stroke-linecap="round"/><circle cx="652.5" cy="875" r="17" fill="#3a3637"/><circle cx="652.5" cy="875" r="11" fill="#ffea00" stroke="#231f20" stroke-width="2.2"/><path d="M647.5,875 h9.9 M652.5,870.0 v9.9" stroke="#8a7a10" stroke-width="2.8" stroke-linecap="round"/><circle cx="714.8" cy="875" r="16" fill="#f4f4f4" stroke="#231f20" stroke-width="1.5"/><circle cx="714.8" cy="875" r="11" fill="#ffea00" stroke="#231f20" stroke-width="2.2"/><path d="M709.8,875 h9.9 M714.8,870.0 v9.9" stroke="#8a7a10" stroke-width="2.8" stroke-linecap="round"/><circle cx="547" cy="884" r="16" fill="#f4f4f4" stroke="#231f20" stroke-width="1.2"/><circle cx="547" cy="884" r="11" fill="#ffea00" stroke="#231f20" stroke-width="2.2"/><path d="M542.0,884 h9.9 M547,879.0 v9.9" stroke="#8a7a10" stroke-width="2.8" stroke-linecap="round"/></g><use href="#dh" transform="translate(0,2005) scale(1,-1)"/><path d="M591,990 L625,990 Q632,978 647.5,978 Q663,978 670,990 L695,990 Q697,990 697,992 L697,1012 Q697,1014 695,1014 L670,1014 Q663,1026 647.5,1026 Q632,1026 625,1014 L591,1014 Z" fill="#6c5d4f" stroke="#231f20" stroke-width="2"/><path d="M716,895 Q716,882 730,882 L751,882 L751,1117 L730,1117 Q716,1117 716,1104 Z" fill="#6b6767" stroke="#231f20" stroke-width="2.5"/><path d="M728,892 V1108 M740,900 V1098" stroke="#231f20" stroke-width="1.3" opacity="0.7"/><rect x="731" y="965" width="9" height="6" fill="none" stroke="#231f20" stroke-width="1.2"/><rect x="731" y="1030" width="9" height="6" fill="none" stroke="#231f20" stroke-width="1.2"/><rect x="1339" y="906" width="21" height="191" fill="#97a6b1" stroke="#231f20" stroke-width="1.8"/><rect x="1360" y="906" width="28" height="191" fill="#6f6b6b" stroke="#231f20" stroke-width="2.2"/><rect x="1388" y="906" width="15" height="191" fill="#8d9ba6" stroke="#231f20" stroke-width="1.8"/><rect x="1403" y="906" width="22.5" height="191" fill="#8f8c8c" stroke="#231f20" stroke-width="2.2"/><path d="M1403,953 Q1410,965 1403,978 M1425.5,953 Q1418,965 1425.5,978 M1403,1025 Q1410,1037 1403,1050 M1425.5,1025 Q1418,1037 1425.5,1050" fill="#8f8c8c" stroke="#231f20" stroke-width="1.5"/><rect x="1425.5" y="906" width="30" height="191" fill="#6d6969" stroke="#231f20" stroke-width="2.2"/><path d="M1440,906 V1097 M1430,947 V1040 M1450,947 V1040" stroke="#231f20" stroke-width="1.3"/><rect x="1455.5" y="906" width="26.5" height="191" fill="#8c8989" stroke="#231f20" stroke-width="2.2"/><rect x="1466" y="948" width="10" height="108" rx="2" fill="#8f8c8c" stroke="#231f20" stroke-width="1.5"/><rect x="1482" y="906" width="37" height="191" fill="#929090" stroke="#231f20" stroke-width="2.2"/><path d="M1519,935 L1548,935 L1548,1070 L1519,1070 Z" fill="#7f7b7b" stroke="#231f20" stroke-width="2"/><path d="M1521,952 Q1512,967 1521,982 L1548,982 L1548,952 Z" fill="#7f7b7b" stroke="#231f20" stroke-width="1.8"/><path d="M1521,1032 Q1512,1047 1521,1062 L1548,1062 L1548,1032 Z" fill="#7f7b7b" stroke="#231f20" stroke-width="1.8"/><path d="M751,894 H1339 V974 H1358 V1026 H1339 V1106 H751 Z" fill="#0268bd" stroke="#231f20" stroke-width="3"/><rect x="752.5" y="895.5" width="54" height="209" fill="#0a66b8"/><path d="M808,894 V1106 M1307,894 V1106" stroke="#231f20" stroke-width="2"/><g id="fh" clip-path="url(#ct)"><path d="M432.0,589.0 L462.0,605.0 L466.0,682.0 L439.0,683.0 Z" fill="#b3b6df" stroke="#231f20" stroke-width="2.2" stroke-linejoin="round" /><path d="M447.0,682.0 L460.0,682.0 L470.0,790.0 L456.0,790.0 Z" fill="#a9d3ea" stroke="#231f20" stroke-width="2.2" stroke-linejoin="round" /><path d="M450.0,787.0 L478.0,787.0 L486.0,890.0 L455.0,892.0 Z" fill="#b3b6df" stroke="#231f20" stroke-width="2.2" stroke-linejoin="round" /><path d="M456,770 h16 v10 h-16 z" fill="#a9d3ea" stroke="#231f20" stroke-width="1.8"/><path d="M440,572 L478,572 A14,14 0 0 1 476,598 L458,600 L440,585 Z" fill="#9db7ca" stroke="#231f20" stroke-width="2.2"/><circle cx="462.5" cy="584" r="4.5" fill="#ffea00" stroke="#231f20" stroke-width="1.2"/><path d="M276.0,572.0 L418.0,572.0 L430.0,680.0 L437.0,752.0 L446.0,800.0 L452.0,850.0 L448.0,895.0 L290.0,895.0 L205.0,903.0 L205.5,860.0 L207.5,830.0 L256.0,732.0 L266.0,700.0 L277.0,595.0 Z" fill="#7b7777" stroke="#231f20" stroke-width="2.5" stroke-linejoin="round" /><path d="M292,600 L283,735 L222,830 L222,850 L300,850" fill="none" stroke="#231f20" stroke-width="1.5" opacity="0.7"/><path d="M270.8,789.0 L282.0,758.3 L296.0,778.8 Z" fill="#ffffff" stroke="#231f20" stroke-width="2.2" stroke-linejoin="round" /><path d="M269.9,832.8 L297.9,817.0 L299.7,838.4 Z" fill="#ffffff" stroke="#231f20" stroke-width="2.2" stroke-linejoin="round" /><path d="M305.0,608.0 L320.0,608.0 L320.0,626.0 L308.0,626.0 Z" fill="#ffffff" stroke="#231f20" stroke-width="1.8" stroke-linejoin="round" /><path d="M305.0,657.0 L311.0,657.0 L309.0,674.0 L304.0,674.0 Z" fill="#ffffff" stroke="#231f20" stroke-width="1.8" stroke-linejoin="round" /><path d="M272.0,876.0 L352.0,876.0 L352.0,895.0 L272.0,895.0 Z" fill="#ffffff" stroke="#231f20" stroke-width="2.0" stroke-linejoin="round" /><path d="M253,690 Q252,672 266,672 Q280,674 277,690 Q282,700 276,710 Q282,722 270,728 Q254,730 254,712 Z" fill="#7b7777" stroke="#231f20" stroke-width="2.2"/><path d="M330.0,573.0 L416.0,572.0 L424.0,640.0 L431.0,700.0 L437.0,752.0 L440.0,820.0 L352.0,845.0 L350.0,880.0 L340.0,893.0 L302.0,893.0 L300.0,800.0 L294.0,720.0 L326.0,627.0 Z" fill="#8c8989" stroke="#231f20" stroke-width="2.5" stroke-linejoin="round" /><path d="M335,585 L332,630 L304,722 L306,880" fill="none" stroke="#231f20" stroke-width="1.4" opacity="0.6"/><path d="M350.0,572.0 L399.0,572.0 L399.0,630.0 L350.0,630.0 Z" fill="#7d7979" stroke="#231f20" stroke-width="2.2" stroke-linejoin="round" /><path d="M353,572 L353,612 Q360,622 372,618 L372,572 Z M375,572 L375,612 Q382,622 392,612 L392,572 Z" fill="#9fbad0" stroke="#231f20" stroke-width="1.8"/><rect x="347.5" y="646" width="53.5" height="23" rx="10" fill="#716d6d" stroke="#231f20" stroke-width="2.2"/><rect x="379" y="650" width="8" height="16" rx="3" fill="#fff" stroke="#231f20" stroke-width="1.5"/><path d="M333.0,725.0 L351.5,700.8 L388.0,700.8 L412.0,725.6 L412.0,760.0 L390.0,816.0 L358.0,816.7 L334.0,792.0 Z" fill="#716d6d" stroke="#231f20" stroke-width="2.2" stroke-linejoin="round" /><g transform="translate(357,722) rotate(48)"><rect x="-4" y="-29" width="72" height="58" fill="#4f4b4c" stroke="#231f20" stroke-width="2.2"/><path d="M18.0,-28 Q-20.0,0 18.0,28" fill="none" stroke="#231f20" stroke-width="5.5"/><path d="M18.0,-28 Q-20.0,0 18.0,28" fill="none" stroke="#cbe9f5" stroke-width="2.8"/><path d="M27.5,-28 Q-10.5,0 27.5,28" fill="none" stroke="#231f20" stroke-width="5.5"/><path d="M27.5,-28 Q-10.5,0 27.5,28" fill="none" stroke="#cbe9f5" stroke-width="2.8"/><path d="M37.0,-28 Q-1.0,0 37.0,28" fill="none" stroke="#231f20" stroke-width="5.5"/><path d="M37.0,-28 Q-1.0,0 37.0,28" fill="none" stroke="#cbe9f5" stroke-width="2.8"/><path d="M46.5,-28 Q8.5,0 46.5,28" fill="none" stroke="#231f20" stroke-width="5.5"/><path d="M46.5,-28 Q8.5,0 46.5,28" fill="none" stroke="#cbe9f5" stroke-width="2.8"/><path d="M56.0,-28 Q18.0,0 56.0,28" fill="none" stroke="#231f20" stroke-width="5.5"/><path d="M56.0,-28 Q18.0,0 56.0,28" fill="none" stroke="#cbe9f5" stroke-width="2.8"/><path d="M65.5,-28 Q27.5,0 65.5,28" fill="none" stroke="#231f20" stroke-width="5.5"/><path d="M65.5,-28 Q27.5,0 65.5,28" fill="none" stroke="#cbe9f5" stroke-width="2.8"/><path d="M75.0,-28 Q37.0,0 75.0,28" fill="none" stroke="#231f20" stroke-width="5.5"/><path d="M75.0,-28 Q37.0,0 75.0,28" fill="none" stroke="#cbe9f5" stroke-width="2.8"/><path d="M64,-35 L108,-35 A35,35 0 0 1 108,35 L64,35 Q50,0 64,-35 Z" fill="#5c5858" stroke="#231f20" stroke-width="2.5"/><circle cx="108" cy="0" r="28" fill="none" stroke="#231f20" stroke-width="1.3" opacity="0.7"/><rect x="72" y="-24" width="12" height="10" rx="3" fill="none" stroke="#231f20" stroke-width="1.3" opacity="0.7"/><rect x="72" y="14" width="12" height="10" rx="3" fill="none" stroke="#231f20" stroke-width="1.3" opacity="0.7"/></g><circle cx="432.5" cy="806" r="5" fill="#ffea00" stroke="#231f20" stroke-width="2.2"/><path d="M430.2,806 h4.5 M432.5,803.8 v4.5" stroke="#8a7a10" stroke-width="1.2" stroke-linecap="round"/><path d="M272.0,895.0 L381.0,885.0 L381.0,900.0 L285.0,920.0 Z" fill="#6d6969" stroke="#231f20" stroke-width="2.0" stroke-linejoin="round" /><path d="M275.0,920.0 L381.0,885.0 L381.0,939.0 L289.0,940.0 Z" fill="#8798a6" stroke="#231f20" stroke-width="2.2" stroke-linejoin="round" /><path d="M300,925 L378,898 M310,934 L380,912" stroke="#231f20" stroke-width="1" opacity="0.5"/><path d="M425.0,849.0 L464.0,849.0 L466.0,878.0 L455.0,878.0 L455.0,900.0 L425.0,900.0 Z" fill="#8798a6" stroke="#231f20" stroke-width="2.2" stroke-linejoin="round" /><path d="M453,877 L469,874" stroke="#ffea00" stroke-width="2.6"/><path d="M453,879.4 L469,876.4" stroke="#231f20" stroke-width="1"/><path d="M453,884 L469,881" stroke="#ffea00" stroke-width="2.6"/><path d="M453,886.4 L469,883.4" stroke="#231f20" stroke-width="1"/><path d="M453,891 L469,888" stroke="#ffea00" stroke-width="2.6"/><path d="M453,893.4 L469,890.4" stroke="#231f20" stroke-width="1"/><path d="M154.4,1010 L154.4,855 Q154.4,845 166,845 L176,845 Q180,850 180,858 Q186,890 212.5,910 L212.5,1010 Z" fill="#cfcccb" stroke="#231f20" stroke-width="2.5"/><path d="M166,852 V1010" stroke="#231f20" stroke-width="1" opacity="0.5"/><path d="M213,917 L200,917 Q187,919 187,940 L187,1010" fill="none" stroke="#231f20" stroke-width="15"/><path d="M213,917 L200,917 Q187,919 187,940 L187,1010" fill="none" stroke="#b3dff2" stroke-width="10"/><path d="M172.5,969.0 L184.0,969.0 L184.0,1010.0 L172.5,1010.0 Z" fill="#cfcccb" stroke="#231f20" stroke-width="2.0" stroke-linejoin="round" /><path d="M195.0,930.0 L232.5,918.8 L237.5,918.0 L237.5,1010.0 L186.0,1010.0 Z" fill="#858181" stroke="#231f20" stroke-width="2.5" stroke-linejoin="round" /><path d="M200,940 L192,1010" stroke="#231f20" stroke-width="1" opacity="0.5"/><rect x="200.6" y="976" width="25" height="34" fill="#858181" stroke="#231f20" stroke-width="1.5"/><path d="M204,981 l5,5 m0,-5 l-5,5 M213,981 l5,5 m0,-5 l-5,5 M204,992 l5,5 m0,-5 l-5,5 M213,992 l5,5 m0,-5 l-5,5" stroke="#5e5a5a" stroke-width="1.2"/><path d="M237.5,915.0 L273.8,915.0 L273.8,935.0 L287.5,935.0 L287.5,1010.0 L237.5,1010.0 Z" fill="#8f8c8c" stroke="#231f20" stroke-width="2.5" stroke-linejoin="round" /><path d="M243,920 V1010" stroke="#231f20" stroke-width="1" opacity="0.5"/><path d="M225,918 L225,880 Q225,857.5 247.5,857.5 Q270,857.5 270,880 L270,918 Z" fill="#8f8c8c" stroke="#231f20" stroke-width="2.5"/><path d="M235,900 Q236,916 252,917 Q268,916 270,900" fill="none" stroke="#231f20" stroke-width="2.2"/><circle cx="252" cy="877" r="5.5" fill="none" stroke="#231f20" stroke-width="1.8"/><circle cx="252" cy="896" r="5.5" fill="none" stroke="#231f20" stroke-width="1.8"/><circle cx="258.75" cy="956" r="11.5" fill="#ffea00" stroke="#231f20" stroke-width="2.2"/><path d="M253.6,956 h10.3 M258.75,950.8 v10.3" stroke="#8a7a10" stroke-width="2.9" stroke-linecap="round"/><rect x="267.5" y="991" width="21" height="19" fill="#8798a6" stroke="#231f20" stroke-width="2"/><path d="M288.8,940.0 L381.0,939.0 L381.0,1010.0 L288.8,1010.0 Z" fill="#f4f4f4" stroke="#231f20" stroke-width="2.2" stroke-linejoin="round" /><path d="M361,949 H310 Q290,950 290,975 V981 H361 Z" fill="#f7f7f7" stroke="#231f20" stroke-width="2"/><ellipse cx="346" cy="965" rx="7.5" ry="11" fill="#ffea00" stroke="#231f20" stroke-width="2"/><path d="M290,992.5 H345 V1010" fill="none" stroke="#231f20" stroke-width="1.8"/><path d="M362,945 V1010" stroke="#231f20" stroke-width="1" opacity="0.5"/><path d="M391,787.5 Q392,780 402,780 L418,780 Q426,782 425,792 L424,880 L422,905 L415,990 L415,1010 L383,1010 L382.5,905 L372.5,900 L372.5,880 L390,840 Z" fill="#8f8c8c" stroke="#231f20" stroke-width="2.5"/><path d="M404,786 V1010" stroke="#231f20" stroke-width="1.2" opacity="0.6"/><circle cx="396" cy="803" r="3.5" fill="none" stroke="#231f20" stroke-width="1.5"/><circle cx="396" cy="821" r="3.5" fill="none" stroke="#231f20" stroke-width="1.5"/><circle cx="396" cy="838" r="3.5" fill="none" stroke="#231f20" stroke-width="1.5"/><ellipse cx="385" cy="965" rx="11" ry="15" fill="#7b7777" stroke="#231f20" stroke-width="2.2"/><ellipse cx="382" cy="965" rx="3.5" ry="6" fill="none" stroke="#231f20" stroke-width="1.5"/><ellipse cx="416" cy="965" rx="8" ry="14" fill="#7b7777" stroke="#231f20" stroke-width="2.2"/><circle cx="390.6" cy="861" r="5.5" fill="#ffea00" stroke="#231f20" stroke-width="2.2"/><path d="M388.1,861 h5.0 M390.6,858.5 v5.0" stroke="#8a7a10" stroke-width="1.4" stroke-linecap="round"/><circle cx="380" cy="888.75" r="5.5" fill="#ffea00" stroke="#231f20" stroke-width="2.2"/><path d="M377.5,888.75 h5.0 M380,886.3 v5.0" stroke="#8a7a10" stroke-width="1.4" stroke-linecap="round"/><ellipse cx="273" cy="589" rx="9" ry="15" fill="#ffea00" stroke="#231f20" stroke-width="2.2"/><ellipse cx="317" cy="590" rx="9" ry="15" fill="#ffea00" stroke="#231f20" stroke-width="2.2"/><ellipse cx="254" cy="714" rx="9" ry="15" fill="#ffea00" stroke="#231f20" stroke-width="2.2"/><ellipse cx="301" cy="872.5" rx="9" ry="15" fill="#ffea00" stroke="#231f20" stroke-width="2.2"/></g><use href="#fh" transform="translate(0,2005) scale(1,-1)"/><circle cx="315.6" cy="1001" r="11.5" fill="#ffea00" stroke="#231f20" stroke-width="2.2"/><path d="M310.4,1001 h10.3 M315.6,995.8 v10.3" stroke="#8a7a10" stroke-width="2.9" stroke-linecap="round"/><path d="M1545.0,865.0 L1550.0,837.5 L1575.0,820.0 L1617.5,812.5 L1642.5,781.0 L1695.0,781.0 L1717.5,804.0 L1769.0,804.0 L1806.0,842.5 L1842.5,842.5 L1850.0,865.0 L1855.0,865.0 L1855.0,882.5 L1850.0,1040.0 L1545.0,1040.0 Z" fill="#6b6767" stroke="#231f20" stroke-width="2.5" stroke-linejoin="round" /><path d="M1617.5,812.5 Q1660,830 1700,820 L1769,830 L1806,842.5" fill="none" stroke="#231f20" stroke-width="1.5" opacity="0.7"/><text x="1622" y="827" font-family="Liberation Sans, sans-serif" font-size="11" font-weight="bold" fill="#5a5656" stroke="#4a4646" stroke-width="0.6" textLength="90" lengthAdjust="spacingAndGlyphs" transform="rotate(2 1660 822)">TAMIYA</text><path d="M1545.0,865.0 L1855.0,865.0 L1855.0,885.0 L1545.0,885.0 Z" fill="#625e5e" stroke="#231f20" stroke-width="2.2" stroke-linejoin="round" /><path d="M1604,865 V885 M1800,865 V885" stroke="#231f20" stroke-width="1.3"/><path d="M1575,848 Q1575,840 1583,840 Q1590,840 1590,848 L1590,865 L1575,865 Z" fill="#7a7676" stroke="#231f20" stroke-width="1.5"/><path d="M1562,860 Q1575,853 1588,860 L1588,865 L1562,865 Z" fill="#ffea00" stroke="#231f20" stroke-width="1.3"/><path d="M1775,842 Q1790,835 1805,842 L1805,865 L1775,865 Z" fill="#6f6b6b" stroke="#231f20" stroke-width="1.3"/><path d="M1545.0,932.0 L1855.0,932.0 L1855.0,1072.0 L1545.0,1072.0 Z" fill="#625e5e" stroke="#231f20" stroke-width="1.5" stroke-linejoin="round" /><rect x="1664" y="932" width="45" height="65" fill="#6f6b6b" stroke="#231f20" stroke-width="1.5"/><rect x="1664" y="997" width="45" height="75" fill="#6a6666" stroke="#231f20" stroke-width="1.5"/><rect x="1820" y="940" width="36" height="125" fill="#6f6b6b" stroke="#231f20" stroke-width="1.5"/><rect x="1745" y="995" width="75" height="20" fill="#767272" stroke="#231f20" stroke-width="1.3"/><rect x="1664" y="1062" width="160" height="10" fill="#c9c6c4" stroke="#231f20" stroke-width="1.3"/><path d="M1590.0,932.0 L1664.0,932.0 L1664.0,1072.0 L1590.0,1072.0 Z" fill="#cfcccb" stroke="#231f20" stroke-width="2" stroke-linejoin="round" /><path d="M1615,936 H1644 Q1646,936 1646,940 V1010 Q1630,1004 1616,1010 V940 Q1616,936 1615,936 Z" fill="#625e5e" stroke="#231f20" stroke-width="2"/><path d="M1614,1072 V1055 Q1614,1032 1630,1032 Q1646,1032 1646,1055 V1072 Z" fill="#625e5e" stroke="#231f20" stroke-width="2"/><path d="M1590,932 V960 Q1598,985 1615,985 M1590,980 V1072" fill="none" stroke="#231f20" stroke-width="1.5"/><path d="M1590,950 Q1620,962 1590,975" fill="none" stroke="#231f20" stroke-width="1.2" opacity="0.6"/><path d="M1547.0,935.0 L1590.0,935.0 L1590.0,1070.0 L1547.0,1070.0 Z" fill="#bfbcba" stroke="#231f20" stroke-width="1.8" stroke-linejoin="round" /><path d="M1568,935 V1070" stroke="#231f20" stroke-width="1.2"/><path d="M1580,940 Q1590,940 1590,952 Q1590,965 1580,965 Z M1580,1040 Q1590,1040 1590,1051 Q1590,1062 1580,1062 Z" fill="#ffea00" stroke="#231f20" stroke-width="1.5"/><path d="M1556,932 L1564,924 L1568,932 Z M1556,1072 L1564,1080 L1568,1072 Z" fill="#cfcccb" stroke="#231f20" stroke-width="1.3"/><path d="M1524,901 H1912 Q1931,901 1931,920 V1084 Q1931,1102.5 1912,1102.5 H1524 V1072.5 H1891 V932.5 H1524 Z" fill="#cfcccb" stroke="#231f20" stroke-width="2.5"/><path d="M1524,932.5 H1891 M1524,1072.5 H1891" stroke="#231f20" stroke-width="2.5"/><path d="M1891,932.5 L1897,925 Q1900,916 1897,908 L1891,901" fill="none" stroke="#231f20" stroke-width="1.8"/><path d="M1891,1072.5 L1897,1080 Q1900,1089 1897,1097 L1891,1102.5" fill="none" stroke="#231f20" stroke-width="1.8"/><path d="M1891,935 V1070 Q1931,1070 1931,1070" fill="none"/><rect x="1862" y="934" width="68" height="137" fill="#cfcccb"/><path d="M1862,934 V1071" stroke="#231f20" stroke-width="2"/><path d="M1852,936 H1891 M1852,1069 H1891" stroke="#fff" stroke-width="3"/><circle cx="1908.75" cy="916" r="5.5" fill="#fff" stroke="#231f20" stroke-width="1.8"/><circle cx="1908.75" cy="1087.5" r="5.5" fill="#fff" stroke="#231f20" stroke-width="1.8"/><circle cx="1907.5" cy="960" r="14" fill="#cfcccb" stroke="#231f20" stroke-width="2"/><circle cx="1882.5" cy="967.5" r="16" fill="#cfcccb" stroke="#231f20" stroke-width="2"/><circle cx="1882.5" cy="967.5" r="8" fill="#6f6b6b" stroke="#231f20" stroke-width="1.5"/><circle cx="1907.5" cy="960" r="6" fill="#ffea00" stroke="#231f20" stroke-width="1.2"/><circle cx="1907.5" cy="1042.5" r="14" fill="#cfcccb" stroke="#231f20" stroke-width="2"/><circle cx="1882.5" cy="1035" r="16" fill="#cfcccb" stroke="#231f20" stroke-width="2"/><circle cx="1882.5" cy="1035" r="8" fill="#6f6b6b" stroke="#231f20" stroke-width="1.5"/><circle cx="1907.5" cy="1042.5" r="6" fill="#ffea00" stroke="#231f20" stroke-width="1.2"/><path d="M1707.0,929.0 L1727.0,929.0 L1770.0,980.0 L1813.0,929.0 L1832.0,929.0 L1780.0,992.0 L1832.0,1076.0 L1812.0,1076.0 L1770.0,1005.0 L1727.0,1076.0 L1707.0,1076.0 L1760.0,992.0 Z" fill="#cfcccb" stroke="#231f20" stroke-width="2.4" stroke-linejoin="round" /><path d="M1566,918 L1575,908 L1578,918 L1578,928 L1566,928 Z" fill="#d9d6d4" stroke="#231f20" stroke-width="1.2"/><rect x="1695" y="1112" width="15" height="35" fill="#d6ecf8" stroke="#231f20" stroke-width="1.8"/><rect x="1764" y="1112" width="15" height="35" fill="#d6ecf8" stroke="#231f20" stroke-width="1.8"/><path d="M1710,1115 V1132 L1720,1138 H1755 L1764,1132 V1115 Z" fill="#d9dcd8" stroke="#231f20" stroke-width="1.8"/><rect x="1655" y="1102" width="164" height="15.5" fill="#d9dcd8" stroke="#231f20" stroke-width="2"/><path d="M1673,1102 V1117.5 M1675,1104 h0" stroke="#231f20" stroke-width="1.2"/><path d="M1542.8,1103 H1595 V1150 Q1595,1157 1588,1157 H1556 L1572,1178 L1566,1182 L1548,1160 Q1542.8,1150 1542.8,1140 Z" fill="#88cfc3" stroke="#231f20" stroke-width="2.2"/><path d="M1543,1113.5 H1595" stroke="#231f20" stroke-width="1.2"/><text x="591" y="608" font-family="Liberation Sans, sans-serif" font-size="29" fill="#2595cf" textLength="199" lengthAdjust="spacingAndGlyphs">STEERING SERVO</text><text x="1006" y="607.5" font-family="Liberation Sans, sans-serif" font-size="29" fill="#2595cf" textLength="110" lengthAdjust="spacingAndGlyphs">RECEIVER</text><text x="1694" y="701" font-family="Liberation Sans, sans-serif" font-size="29" fill="#2595cf" textLength="203" lengthAdjust="spacingAndGlyphs">CVA OIL DAMPER</text><text x="64" y="1255" font-family="Liberation Sans, sans-serif" font-size="29" fill="#2595cf" textLength="90" lengthAdjust="spacingAndGlyphs">CVA OIL</text><text x="64" y="1282" font-family="Liberation Sans, sans-serif" font-size="29" fill="#2595cf" textLength="100" lengthAdjust="spacingAndGlyphs">DAMPER</text><text x="591" y="1296" font-family="Liberation Sans, sans-serif" font-size="29" fill="#2595cf" textLength="256" lengthAdjust="spacingAndGlyphs">TAMIYA BATTERY PACK</text><text x="1704.5" y="1244" font-family="Liberation Sans, sans-serif" font-size="29" fill="#2595cf" textLength="109" lengthAdjust="spacingAndGlyphs">TYPE 540</text><text x="1705" y="1270" font-family="Liberation Sans, sans-serif" font-size="29" fill="#2595cf" textLength="206" lengthAdjust="spacingAndGlyphs">ELECTRIC MOTOR</text><text x="1006" y="1351" font-family="Liberation Sans, sans-serif" font-size="29" fill="#2595cf" textLength="42" lengthAdjust="spacingAndGlyphs">ESC</text><text x="1005" y="1377" font-family="Liberation Sans, sans-serif" font-size="20" fill="#2595cf" textLength="310.5" lengthAdjust="spacingAndGlyphs">(ELECTRONIC SPEED CONTROLLER)</text><text x="592" y="1517" font-family="Liberation Sans, sans-serif" font-size="29" fill="#2595cf" textLength="132.5" lengthAdjust="spacingAndGlyphs">RIBBED TIRE</text><text x="1007" y="1517" font-family="Liberation Sans, sans-serif" font-size="29" fill="#2595cf" textLength="212.5" lengthAdjust="spacingAndGlyphs">SQUARE SPIKE TIRE</text><path d="M641,617 V1006" stroke="#2595cf" stroke-width="2.5" fill="none"/><path d="M1054,620 V784" stroke="#2595cf" stroke-width="2.5" fill="none"/><path d="M1482,694.5 H1682" stroke="#2595cf" stroke-width="2.5" fill="none"/><path d="M164,1246 H372" stroke="#2595cf" stroke-width="2.5" fill="none"/><path d="M1736,1122 V1207" stroke="#2595cf" stroke-width="2.5" fill="none"/><path d="M1139,1215 V1346" stroke="#2595cf" stroke-width="2.5" fill="none"/><path d="M859.3,1056.6 L730,1266.2" stroke="#2595cf" stroke-width="2.5" fill="none"/><path d="M460,1506.4 L581,1506.7" stroke="#2595cf" stroke-width="2.5" fill="none" style="mix-blend-mode:multiply"/><path d="M1226.4,1506.5 L1427.8,1506.8" stroke="#2595cf" stroke-width="2.5" fill="none" style="mix-blend-mode:multiply"/></svg></body></html>
